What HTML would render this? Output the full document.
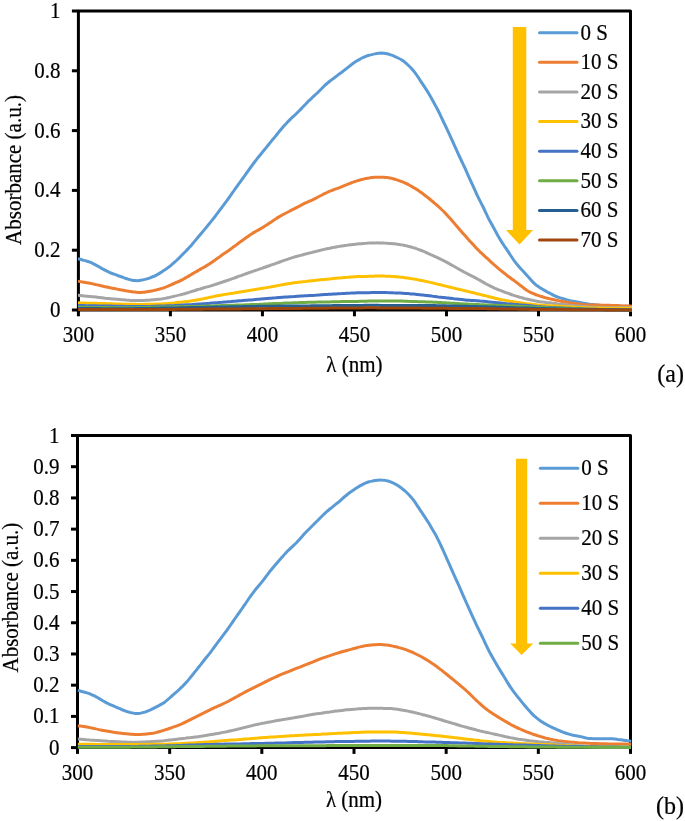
<!DOCTYPE html><html><head><meta charset="utf-8"><style>html,body{margin:0;padding:0;background:#fff;}svg{display:block;will-change:transform;}text{font-family:"Liberation Serif",serif;fill:#000;stroke:#000;stroke-width:0.2px;}</style></head><body>
<svg width="685" height="821" viewBox="0 0 685 821">
<rect width="685" height="821" fill="#fff"/>
<g stroke="#000" stroke-width="3" fill="none" stroke-linejoin="round">
<rect x="78.40" y="11.00" width="552.10" height="299.00"/>
<line x1="71.90" y1="310.00" x2="78.40" y2="310.00"/>
<line x1="71.90" y1="250.20" x2="78.40" y2="250.20"/>
<line x1="71.90" y1="190.40" x2="78.40" y2="190.40"/>
<line x1="71.90" y1="130.60" x2="78.40" y2="130.60"/>
<line x1="71.90" y1="70.80" x2="78.40" y2="70.80"/>
<line x1="71.90" y1="11.00" x2="78.40" y2="11.00"/>
<line x1="78.40" y1="310.00" x2="78.40" y2="316.30"/>
<line x1="170.42" y1="310.00" x2="170.42" y2="316.30"/>
<line x1="262.43" y1="310.00" x2="262.43" y2="316.30"/>
<line x1="354.45" y1="310.00" x2="354.45" y2="316.30"/>
<line x1="446.47" y1="310.00" x2="446.47" y2="316.30"/>
<line x1="538.48" y1="310.00" x2="538.48" y2="316.30"/>
<line x1="630.50" y1="310.00" x2="630.50" y2="316.30"/>
</g>
<clipPath id="ca"><rect x="77.80" y="9.00" width="554.30" height="303.00"/></clipPath>
<g clip-path="url(#ca)" fill="none" stroke-width="3" stroke-linejoin="round">
<path d="M78.0,258.7 C78.5,258.8 80.0,259.3 81.0,259.5 C82.0,259.8 83.0,260.1 84.0,260.4 C85.0,260.6 86.0,260.9 87.0,261.2 C88.0,261.5 89.0,261.8 90.0,262.2 C91.0,262.6 92.0,263.1 93.0,263.6 C94.0,264.1 95.0,264.6 96.0,265.1 C97.0,265.6 98.0,266.2 99.0,266.8 C100.0,267.4 101.0,268.0 102.0,268.6 C103.0,269.1 104.0,269.7 105.0,270.2 C106.0,270.7 107.0,271.2 108.0,271.7 C109.0,272.1 110.0,272.6 111.0,273.0 C112.0,273.4 113.0,273.8 114.0,274.1 C115.0,274.5 116.0,274.8 117.0,275.2 C118.0,275.5 119.0,275.9 120.0,276.3 C121.0,276.6 122.0,277.0 123.0,277.4 C124.0,277.8 125.0,278.2 126.0,278.5 C127.0,278.9 128.0,279.1 129.0,279.4 C130.0,279.7 131.0,280.0 132.0,280.2 C133.0,280.4 134.0,280.5 135.0,280.6 C136.0,280.7 137.0,280.7 138.0,280.7 C139.0,280.6 140.0,280.4 141.0,280.2 C142.0,280.0 143.0,279.8 144.0,279.6 C145.0,279.4 146.0,279.2 147.0,278.9 C148.0,278.6 149.0,278.3 150.0,277.9 C151.0,277.6 152.0,277.2 153.0,276.7 C154.0,276.3 155.0,275.8 156.0,275.3 C157.0,274.8 158.0,274.2 159.0,273.6 C160.0,273.0 161.0,272.4 162.0,271.8 C163.0,271.1 164.0,270.4 165.0,269.8 C166.0,269.1 167.0,268.4 168.0,267.6 C169.0,266.9 170.0,266.1 171.0,265.3 C172.0,264.5 173.0,263.6 174.0,262.7 C175.0,261.8 176.0,260.9 177.0,260.0 C178.0,259.0 179.0,258.0 180.0,257.1 C181.0,256.1 182.0,255.1 183.0,254.0 C184.0,253.0 185.0,252.0 186.0,251.0 C187.0,249.9 188.0,248.9 189.0,247.8 C190.0,246.7 191.0,245.6 192.0,244.5 C193.0,243.3 194.0,242.1 195.0,240.9 C196.0,239.7 197.0,238.5 198.0,237.3 C199.0,236.1 200.0,234.9 201.0,233.7 C202.0,232.5 203.0,231.3 204.0,230.1 C205.0,228.9 206.0,227.7 207.0,226.5 C208.0,225.3 209.0,224.2 210.0,222.9 C211.0,221.7 212.0,220.5 213.0,219.2 C214.0,217.9 215.0,216.6 216.0,215.2 C217.0,213.9 218.0,212.6 219.0,211.2 C220.0,209.9 221.0,208.5 222.0,207.1 C223.0,205.8 224.0,204.5 225.0,203.1 C226.0,201.8 227.0,200.5 228.0,199.1 C229.0,197.7 230.0,196.3 231.0,194.8 C232.0,193.4 233.0,191.9 234.0,190.5 C235.0,189.1 236.0,187.7 237.0,186.3 C238.0,184.9 239.0,183.5 240.0,182.2 C241.0,180.8 242.0,179.5 243.0,178.1 C244.0,176.7 245.0,175.3 246.0,173.9 C247.0,172.4 248.0,171.0 249.0,169.6 C250.0,168.2 251.0,166.8 252.0,165.5 C253.0,164.1 254.0,162.8 255.0,161.5 C256.0,160.2 257.0,159.0 258.0,157.7 C259.0,156.4 260.0,155.2 261.0,154.0 C262.0,152.8 263.0,151.5 264.0,150.3 C265.0,149.1 266.0,147.9 267.0,146.6 C268.0,145.4 269.0,144.1 270.0,142.9 C271.0,141.7 272.0,140.5 273.0,139.2 C274.0,138.0 275.0,136.8 276.0,135.6 C277.0,134.3 278.0,133.1 279.0,131.8 C280.0,130.6 281.0,129.4 282.0,128.2 C283.0,127.0 284.0,125.9 285.0,124.8 C286.0,123.7 287.0,122.7 288.0,121.6 C289.0,120.6 290.0,119.6 291.0,118.6 C292.0,117.7 293.0,116.7 294.0,115.8 C295.0,114.9 296.0,114.0 297.0,113.0 C298.0,112.0 299.0,111.0 300.0,109.9 C301.0,108.9 302.0,107.8 303.0,106.8 C304.0,105.8 305.0,104.7 306.0,103.7 C307.0,102.7 308.0,101.6 309.0,100.7 C310.0,99.7 311.0,98.7 312.0,97.8 C313.0,96.8 314.0,96.0 315.0,95.0 C316.0,94.1 317.0,93.2 318.0,92.2 C319.0,91.2 320.0,90.2 321.0,89.2 C322.0,88.2 323.0,87.2 324.0,86.2 C325.0,85.3 326.0,84.3 327.0,83.5 C328.0,82.6 329.0,81.8 330.0,81.0 C331.0,80.3 332.0,79.5 333.0,78.8 C334.0,78.0 335.0,77.2 336.0,76.5 C337.0,75.7 338.0,75.0 339.0,74.2 C340.0,73.5 341.0,72.8 342.0,72.1 C343.0,71.3 344.0,70.5 345.0,69.7 C346.0,69.0 347.0,68.1 348.0,67.3 C349.0,66.5 350.0,65.7 351.0,65.0 C352.0,64.2 353.0,63.5 354.0,62.8 C355.0,62.1 356.0,61.5 357.0,60.8 C358.0,60.2 359.0,59.6 360.0,59.1 C361.0,58.5 362.0,58.0 363.0,57.5 C364.0,57.1 365.0,56.7 366.0,56.3 C367.0,55.9 368.0,55.6 369.0,55.3 C370.0,55.0 371.0,54.8 372.0,54.6 C373.0,54.3 374.0,54.1 375.0,53.9 C376.0,53.7 377.0,53.5 378.0,53.3 C379.0,53.2 380.0,53.2 381.0,53.1 C382.0,53.1 383.0,53.2 384.0,53.3 C385.0,53.4 386.0,53.6 387.0,53.8 C388.0,54.0 389.0,54.3 390.0,54.6 C391.0,55.0 392.0,55.3 393.0,55.7 C394.0,56.1 395.0,56.6 396.0,57.0 C397.0,57.5 398.0,58.0 399.0,58.5 C400.0,59.0 401.0,59.5 402.0,60.1 C403.0,60.8 404.0,61.5 405.0,62.3 C406.0,63.2 407.0,64.1 408.0,65.0 C409.0,66.0 410.0,66.9 411.0,68.0 C412.0,69.1 413.0,70.2 414.0,71.4 C415.0,72.7 416.0,74.1 417.0,75.5 C418.0,77.0 419.0,78.6 420.0,80.1 C421.0,81.6 422.0,83.2 423.0,84.7 C424.0,86.2 425.0,87.6 426.0,89.2 C427.0,90.7 428.0,92.3 429.0,94.0 C430.0,95.7 431.0,97.4 432.0,99.2 C433.0,101.0 434.0,102.8 435.0,104.7 C436.0,106.5 437.0,108.4 438.0,110.3 C439.0,112.3 440.0,114.5 441.0,116.6 C442.0,118.7 443.0,120.8 444.0,122.9 C445.0,125.0 446.0,127.0 447.0,129.1 C448.0,131.3 449.0,133.4 450.0,135.6 C451.0,137.8 452.0,139.9 453.0,142.2 C454.0,144.4 455.0,146.7 456.0,148.9 C457.0,151.2 458.0,153.4 459.0,155.5 C460.0,157.7 461.0,159.7 462.0,161.8 C463.0,163.9 464.0,166.0 465.0,168.2 C466.0,170.5 467.0,172.8 468.0,175.1 C469.0,177.3 470.0,179.5 471.0,181.7 C472.0,183.8 473.0,186.0 474.0,188.2 C475.0,190.4 476.0,192.7 477.0,194.8 C478.0,196.9 479.0,198.9 480.0,200.9 C481.0,202.9 482.0,204.8 483.0,206.8 C484.0,208.8 485.0,211.1 486.0,213.2 C487.0,215.2 488.0,217.4 489.0,219.4 C490.0,221.3 491.0,223.0 492.0,224.8 C493.0,226.6 494.0,228.4 495.0,230.2 C496.0,232.0 497.0,234.0 498.0,235.8 C499.0,237.5 500.0,239.3 501.0,240.9 C502.0,242.5 503.0,244.0 504.0,245.5 C505.0,247.0 506.0,248.4 507.0,249.9 C508.0,251.4 509.0,252.9 510.0,254.5 C511.0,256.0 512.0,257.6 513.0,259.0 C514.0,260.5 515.0,261.9 516.0,263.1 C517.0,264.4 518.0,265.5 519.0,266.7 C520.0,267.8 521.0,268.9 522.0,270.0 C523.0,271.0 524.0,272.1 525.0,273.2 C526.0,274.3 527.0,275.4 528.0,276.6 C529.0,277.7 530.0,278.8 531.0,279.9 C532.0,281.0 533.0,282.1 534.0,283.1 C535.0,284.1 536.0,285.0 537.0,285.7 C538.0,286.5 539.0,287.1 540.0,287.7 C541.0,288.3 542.0,288.9 543.0,289.5 C544.0,290.1 545.0,290.6 546.0,291.2 C547.0,291.8 548.0,292.3 549.0,292.8 C550.0,293.4 551.0,293.9 552.0,294.4 C553.0,295.0 554.0,295.5 555.0,296.0 C556.0,296.4 557.0,296.8 558.0,297.2 C559.0,297.5 560.0,297.8 561.0,298.1 C562.0,298.4 563.0,298.7 564.0,299.0 C565.0,299.3 566.0,299.6 567.0,299.9 C568.0,300.2 569.0,300.4 570.0,300.6 C571.0,300.9 572.0,301.1 573.0,301.2 C574.0,301.4 575.0,301.6 576.0,301.8 C577.0,302.0 578.0,302.1 579.0,302.3 C580.0,302.5 581.0,302.7 582.0,302.9 C583.0,303.1 584.0,303.3 585.0,303.5 C586.0,303.7 587.0,303.9 588.0,304.0 C589.0,304.2 590.0,304.3 591.0,304.4 C592.0,304.5 593.0,304.7 594.0,304.8 C595.0,304.9 596.0,305.0 597.0,305.1 C598.0,305.2 599.0,305.4 600.0,305.4 C601.0,305.5 602.0,305.5 603.0,305.6 C604.0,305.6 605.0,305.7 606.0,305.7 C607.0,305.7 608.0,305.8 609.0,305.8 C610.0,305.8 611.0,305.8 612.0,305.9 C613.0,305.9 614.0,305.9 615.0,306.0 C616.0,306.0 617.0,306.0 618.0,306.1 C619.0,306.1 620.0,306.1 621.0,306.2 C622.0,306.2 623.0,306.2 624.0,306.3 C625.0,306.3 626.0,306.3 627.0,306.3 C628.0,306.4 629.2,306.4 630.0,306.4 C630.8,306.5 631.7,306.5 632.0,306.5" stroke="#5B9BD5"/>
<path d="M78.0,281.2 C78.5,281.3 80.0,281.5 81.0,281.7 C82.0,281.9 83.0,282.0 84.0,282.2 C85.0,282.4 86.0,282.5 87.0,282.7 C88.0,282.9 89.0,283.1 90.0,283.3 C91.0,283.5 92.0,283.7 93.0,283.9 C94.0,284.1 95.0,284.4 96.0,284.6 C97.0,284.9 98.0,285.1 99.0,285.3 C100.0,285.6 101.0,285.8 102.0,286.0 C103.0,286.3 104.0,286.5 105.0,286.7 C106.0,286.9 107.0,287.1 108.0,287.3 C109.0,287.6 110.0,287.8 111.0,288.0 C112.0,288.2 113.0,288.3 114.0,288.5 C115.0,288.7 116.0,288.9 117.0,289.1 C118.0,289.3 119.0,289.5 120.0,289.7 C121.0,289.9 122.0,290.1 123.0,290.2 C124.0,290.4 125.0,290.6 126.0,290.8 C127.0,290.9 128.0,291.1 129.0,291.3 C130.0,291.4 131.0,291.6 132.0,291.7 C133.0,291.9 134.0,292.0 135.0,292.1 C136.0,292.2 137.0,292.3 138.0,292.4 C139.0,292.4 140.0,292.4 141.0,292.4 C142.0,292.3 143.0,292.3 144.0,292.2 C145.0,292.1 146.0,291.9 147.0,291.8 C148.0,291.7 149.0,291.5 150.0,291.3 C151.0,291.1 152.0,290.9 153.0,290.7 C154.0,290.4 155.0,290.2 156.0,290.0 C157.0,289.7 158.0,289.5 159.0,289.3 C160.0,289.0 161.0,288.7 162.0,288.4 C163.0,288.1 164.0,287.8 165.0,287.4 C166.0,287.0 167.0,286.5 168.0,286.1 C169.0,285.6 170.0,285.2 171.0,284.8 C172.0,284.3 173.0,283.9 174.0,283.5 C175.0,283.1 176.0,282.7 177.0,282.2 C178.0,281.8 179.0,281.3 180.0,280.8 C181.0,280.3 182.0,279.8 183.0,279.3 C184.0,278.7 185.0,278.2 186.0,277.6 C187.0,277.0 188.0,276.5 189.0,275.9 C190.0,275.3 191.0,274.7 192.0,274.1 C193.0,273.5 194.0,272.9 195.0,272.3 C196.0,271.7 197.0,271.2 198.0,270.6 C199.0,270.0 200.0,269.5 201.0,268.9 C202.0,268.3 203.0,267.8 204.0,267.2 C205.0,266.6 206.0,266.0 207.0,265.4 C208.0,264.7 209.0,264.1 210.0,263.4 C211.0,262.8 212.0,262.1 213.0,261.4 C214.0,260.8 215.0,260.1 216.0,259.3 C217.0,258.6 218.0,257.9 219.0,257.2 C220.0,256.5 221.0,255.7 222.0,255.0 C223.0,254.3 224.0,253.6 225.0,253.0 C226.0,252.3 227.0,251.6 228.0,250.9 C229.0,250.2 230.0,249.5 231.0,248.8 C232.0,248.0 233.0,247.3 234.0,246.5 C235.0,245.8 236.0,245.1 237.0,244.3 C238.0,243.6 239.0,242.8 240.0,242.1 C241.0,241.4 242.0,240.6 243.0,239.9 C244.0,239.2 245.0,238.5 246.0,237.8 C247.0,237.1 248.0,236.4 249.0,235.7 C250.0,235.0 251.0,234.4 252.0,233.8 C253.0,233.1 254.0,232.5 255.0,231.9 C256.0,231.3 257.0,230.8 258.0,230.2 C259.0,229.6 260.0,229.1 261.0,228.5 C262.0,227.9 263.0,227.3 264.0,226.7 C265.0,226.1 266.0,225.4 267.0,224.8 C268.0,224.1 269.0,223.4 270.0,222.7 C271.0,222.1 272.0,221.4 273.0,220.7 C274.0,220.1 275.0,219.4 276.0,218.8 C277.0,218.1 278.0,217.5 279.0,216.9 C280.0,216.3 281.0,215.7 282.0,215.1 C283.0,214.6 284.0,214.1 285.0,213.5 C286.0,213.0 287.0,212.5 288.0,212.0 C289.0,211.5 290.0,210.9 291.0,210.4 C292.0,209.9 293.0,209.4 294.0,208.9 C295.0,208.4 296.0,207.8 297.0,207.3 C298.0,206.8 299.0,206.3 300.0,205.8 C301.0,205.2 302.0,204.7 303.0,204.2 C304.0,203.7 305.0,203.2 306.0,202.7 C307.0,202.3 308.0,201.8 309.0,201.4 C310.0,200.9 311.0,200.5 312.0,200.1 C313.0,199.6 314.0,199.1 315.0,198.6 C316.0,198.1 317.0,197.6 318.0,197.0 C319.0,196.5 320.0,196.0 321.0,195.5 C322.0,195.0 323.0,194.4 324.0,193.9 C325.0,193.5 326.0,193.0 327.0,192.5 C328.0,192.0 329.0,191.6 330.0,191.2 C331.0,190.7 332.0,190.4 333.0,190.0 C334.0,189.6 335.0,189.3 336.0,188.9 C337.0,188.5 338.0,188.2 339.0,187.8 C340.0,187.4 341.0,187.0 342.0,186.6 C343.0,186.2 344.0,185.8 345.0,185.3 C346.0,184.9 347.0,184.5 348.0,184.1 C349.0,183.7 350.0,183.4 351.0,183.0 C352.0,182.6 353.0,182.3 354.0,181.9 C355.0,181.6 356.0,181.2 357.0,180.9 C358.0,180.6 359.0,180.3 360.0,180.0 C361.0,179.7 362.0,179.4 363.0,179.2 C364.0,178.9 365.0,178.7 366.0,178.5 C367.0,178.3 368.0,178.1 369.0,178.0 C370.0,177.8 371.0,177.7 372.0,177.6 C373.0,177.5 374.0,177.4 375.0,177.3 C376.0,177.3 377.0,177.2 378.0,177.2 C379.0,177.2 380.0,177.2 381.0,177.2 C382.0,177.2 383.0,177.3 384.0,177.3 C385.0,177.4 386.0,177.4 387.0,177.5 C388.0,177.6 389.0,177.8 390.0,178.0 C391.0,178.2 392.0,178.4 393.0,178.7 C394.0,179.0 395.0,179.2 396.0,179.6 C397.0,179.9 398.0,180.2 399.0,180.6 C400.0,180.9 401.0,181.3 402.0,181.7 C403.0,182.1 404.0,182.5 405.0,183.0 C406.0,183.4 407.0,183.9 408.0,184.4 C409.0,184.9 410.0,185.5 411.0,186.0 C412.0,186.6 413.0,187.1 414.0,187.8 C415.0,188.4 416.0,189.0 417.0,189.6 C418.0,190.3 419.0,191.0 420.0,191.7 C421.0,192.4 422.0,193.1 423.0,193.8 C424.0,194.6 425.0,195.3 426.0,196.1 C427.0,196.9 428.0,197.7 429.0,198.5 C430.0,199.3 431.0,200.1 432.0,201.0 C433.0,201.8 434.0,202.7 435.0,203.6 C436.0,204.4 437.0,205.3 438.0,206.2 C439.0,207.1 440.0,208.0 441.0,209.0 C442.0,209.9 443.0,210.8 444.0,211.8 C445.0,212.9 446.0,213.9 447.0,215.0 C448.0,216.1 449.0,217.2 450.0,218.3 C451.0,219.4 452.0,220.5 453.0,221.7 C454.0,222.8 455.0,224.0 456.0,225.2 C457.0,226.4 458.0,227.6 459.0,228.7 C460.0,229.9 461.0,231.1 462.0,232.2 C463.0,233.4 464.0,234.5 465.0,235.6 C466.0,236.7 467.0,237.8 468.0,239.0 C469.0,240.1 470.0,241.2 471.0,242.3 C472.0,243.4 473.0,244.5 474.0,245.5 C475.0,246.6 476.0,247.7 477.0,248.7 C478.0,249.8 479.0,250.8 480.0,251.8 C481.0,252.7 482.0,253.7 483.0,254.6 C484.0,255.5 485.0,256.4 486.0,257.3 C487.0,258.2 488.0,259.2 489.0,260.1 C490.0,261.0 491.0,261.9 492.0,262.8 C493.0,263.7 494.0,264.6 495.0,265.5 C496.0,266.4 497.0,267.3 498.0,268.2 C499.0,269.0 500.0,269.8 501.0,270.7 C502.0,271.5 503.0,272.3 504.0,273.0 C505.0,273.8 506.0,274.6 507.0,275.4 C508.0,276.1 509.0,276.9 510.0,277.6 C511.0,278.3 512.0,279.1 513.0,279.8 C514.0,280.5 515.0,281.3 516.0,282.0 C517.0,282.8 518.0,283.5 519.0,284.3 C520.0,285.1 521.0,285.9 522.0,286.7 C523.0,287.5 524.0,288.3 525.0,289.0 C526.0,289.7 527.0,290.4 528.0,291.0 C529.0,291.6 530.0,292.1 531.0,292.6 C532.0,293.1 533.0,293.5 534.0,293.9 C535.0,294.3 536.0,294.7 537.0,295.1 C538.0,295.4 539.0,295.7 540.0,296.1 C541.0,296.4 542.0,296.7 543.0,297.0 C544.0,297.3 545.0,297.6 546.0,297.9 C547.0,298.1 548.0,298.4 549.0,298.6 C550.0,298.9 551.0,299.1 552.0,299.3 C553.0,299.6 554.0,299.8 555.0,300.0 C556.0,300.2 557.0,300.4 558.0,300.6 C559.0,300.9 560.0,301.1 561.0,301.3 C562.0,301.5 563.0,301.6 564.0,301.8 C565.0,302.0 566.0,302.1 567.0,302.3 C568.0,302.5 569.0,302.6 570.0,302.8 C571.0,302.9 572.0,303.1 573.0,303.2 C574.0,303.4 575.0,303.5 576.0,303.6 C577.0,303.8 578.0,303.9 579.0,304.0 C580.0,304.1 581.0,304.3 582.0,304.4 C583.0,304.5 584.0,304.6 585.0,304.7 C586.0,304.8 587.0,304.9 588.0,304.9 C589.0,305.0 590.0,305.0 591.0,305.0 C592.0,305.0 593.0,305.0 594.0,305.1 C595.0,305.1 596.0,305.1 597.0,305.1 C598.0,305.1 599.0,305.1 600.0,305.1 C601.0,305.1 602.0,305.2 603.0,305.2 C604.0,305.2 605.0,305.2 606.0,305.3 C607.0,305.3 608.0,305.3 609.0,305.3 C610.0,305.4 611.0,305.4 612.0,305.4 C613.0,305.5 614.0,305.5 615.0,305.5 C616.0,305.6 617.0,305.6 618.0,305.6 C619.0,305.7 620.0,305.7 621.0,305.8 C622.0,305.8 623.0,305.8 624.0,305.9 C625.0,305.9 626.0,306.0 627.0,306.0 C628.0,306.0 629.2,306.1 630.0,306.1 C630.8,306.2 631.7,306.2 632.0,306.2" stroke="#ED7D31"/>
<path d="M78.0,295.3 C78.5,295.3 80.0,295.5 81.0,295.6 C82.0,295.7 83.0,295.8 84.0,295.9 C85.0,296.0 86.0,296.1 87.0,296.2 C88.0,296.3 89.0,296.4 90.0,296.5 C91.0,296.6 92.0,296.7 93.0,296.8 C94.0,296.9 95.0,297.0 96.0,297.1 C97.0,297.2 98.0,297.4 99.0,297.5 C100.0,297.6 101.0,297.7 102.0,297.8 C103.0,297.9 104.0,298.0 105.0,298.2 C106.0,298.3 107.0,298.4 108.0,298.5 C109.0,298.6 110.0,298.7 111.0,298.8 C112.0,298.9 113.0,298.9 114.0,299.0 C115.0,299.1 116.0,299.2 117.0,299.3 C118.0,299.4 119.0,299.5 120.0,299.6 C121.0,299.7 122.0,299.8 123.0,299.8 C124.0,299.9 125.0,300.0 126.0,300.1 C127.0,300.1 128.0,300.2 129.0,300.3 C130.0,300.4 131.0,300.4 132.0,300.5 C133.0,300.5 134.0,300.5 135.0,300.6 C136.0,300.6 137.0,300.6 138.0,300.5 C139.0,300.5 140.0,300.5 141.0,300.5 C142.0,300.4 143.0,300.4 144.0,300.4 C145.0,300.3 146.0,300.3 147.0,300.2 C148.0,300.2 149.0,300.1 150.0,300.1 C151.0,300.0 152.0,299.9 153.0,299.8 C154.0,299.8 155.0,299.7 156.0,299.6 C157.0,299.5 158.0,299.4 159.0,299.3 C160.0,299.2 161.0,299.1 162.0,298.9 C163.0,298.8 164.0,298.6 165.0,298.4 C166.0,298.2 167.0,298.0 168.0,297.7 C169.0,297.5 170.0,297.2 171.0,297.0 C172.0,296.8 173.0,296.5 174.0,296.3 C175.0,296.0 176.0,295.8 177.0,295.6 C178.0,295.3 179.0,295.1 180.0,294.9 C181.0,294.6 182.0,294.4 183.0,294.1 C184.0,293.8 185.0,293.6 186.0,293.3 C187.0,293.0 188.0,292.7 189.0,292.4 C190.0,292.0 191.0,291.7 192.0,291.4 C193.0,291.1 194.0,290.8 195.0,290.5 C196.0,290.1 197.0,289.8 198.0,289.5 C199.0,289.2 200.0,289.0 201.0,288.7 C202.0,288.4 203.0,288.1 204.0,287.8 C205.0,287.5 206.0,287.2 207.0,286.9 C208.0,286.7 209.0,286.4 210.0,286.1 C211.0,285.8 212.0,285.5 213.0,285.2 C214.0,284.9 215.0,284.6 216.0,284.2 C217.0,283.9 218.0,283.6 219.0,283.3 C220.0,282.9 221.0,282.6 222.0,282.3 C223.0,281.9 224.0,281.6 225.0,281.3 C226.0,280.9 227.0,280.6 228.0,280.2 C229.0,279.9 230.0,279.6 231.0,279.2 C232.0,278.8 233.0,278.5 234.0,278.1 C235.0,277.8 236.0,277.4 237.0,277.0 C238.0,276.6 239.0,276.3 240.0,275.9 C241.0,275.6 242.0,275.2 243.0,274.8 C244.0,274.5 245.0,274.1 246.0,273.8 C247.0,273.4 248.0,273.1 249.0,272.7 C250.0,272.4 251.0,272.0 252.0,271.7 C253.0,271.3 254.0,271.0 255.0,270.6 C256.0,270.3 257.0,269.9 258.0,269.6 C259.0,269.2 260.0,268.9 261.0,268.6 C262.0,268.2 263.0,267.9 264.0,267.5 C265.0,267.2 266.0,266.9 267.0,266.5 C268.0,266.2 269.0,265.8 270.0,265.5 C271.0,265.1 272.0,264.8 273.0,264.4 C274.0,264.1 275.0,263.7 276.0,263.3 C277.0,263.0 278.0,262.6 279.0,262.3 C280.0,261.9 281.0,261.6 282.0,261.2 C283.0,260.8 284.0,260.5 285.0,260.1 C286.0,259.8 287.0,259.4 288.0,259.1 C289.0,258.7 290.0,258.4 291.0,258.1 C292.0,257.8 293.0,257.4 294.0,257.1 C295.0,256.9 296.0,256.6 297.0,256.3 C298.0,256.0 299.0,255.8 300.0,255.5 C301.0,255.2 302.0,255.0 303.0,254.7 C304.0,254.4 305.0,254.2 306.0,253.9 C307.0,253.6 308.0,253.4 309.0,253.1 C310.0,252.9 311.0,252.6 312.0,252.4 C313.0,252.1 314.0,251.9 315.0,251.6 C316.0,251.4 317.0,251.1 318.0,250.9 C319.0,250.6 320.0,250.4 321.0,250.1 C322.0,249.9 323.0,249.6 324.0,249.4 C325.0,249.2 326.0,249.0 327.0,248.8 C328.0,248.6 329.0,248.4 330.0,248.2 C331.0,247.9 332.0,247.7 333.0,247.6 C334.0,247.4 335.0,247.2 336.0,247.0 C337.0,246.8 338.0,246.6 339.0,246.4 C340.0,246.2 341.0,246.1 342.0,245.9 C343.0,245.8 344.0,245.7 345.0,245.5 C346.0,245.4 347.0,245.3 348.0,245.1 C349.0,245.0 350.0,244.9 351.0,244.8 C352.0,244.7 353.0,244.5 354.0,244.4 C355.0,244.3 356.0,244.2 357.0,244.1 C358.0,244.0 359.0,243.9 360.0,243.8 C361.0,243.7 362.0,243.6 363.0,243.5 C364.0,243.4 365.0,243.3 366.0,243.3 C367.0,243.2 368.0,243.1 369.0,243.1 C370.0,243.0 371.0,243.0 372.0,242.9 C373.0,242.9 374.0,242.9 375.0,242.9 C376.0,242.9 377.0,242.8 378.0,242.9 C379.0,242.9 380.0,242.9 381.0,242.9 C382.0,242.9 383.0,242.9 384.0,243.0 C385.0,243.0 386.0,243.1 387.0,243.2 C388.0,243.2 389.0,243.3 390.0,243.4 C391.0,243.5 392.0,243.6 393.0,243.7 C394.0,243.8 395.0,243.9 396.0,244.0 C397.0,244.1 398.0,244.3 399.0,244.4 C400.0,244.6 401.0,244.7 402.0,244.9 C403.0,245.1 404.0,245.3 405.0,245.5 C406.0,245.7 407.0,245.9 408.0,246.2 C409.0,246.4 410.0,246.7 411.0,247.0 C412.0,247.3 413.0,247.6 414.0,247.9 C415.0,248.2 416.0,248.5 417.0,248.9 C418.0,249.2 419.0,249.6 420.0,250.0 C421.0,250.3 422.0,250.7 423.0,251.2 C424.0,251.6 425.0,252.0 426.0,252.5 C427.0,252.9 428.0,253.4 429.0,253.8 C430.0,254.3 431.0,254.7 432.0,255.2 C433.0,255.6 434.0,256.1 435.0,256.5 C436.0,257.0 437.0,257.4 438.0,257.9 C439.0,258.4 440.0,258.9 441.0,259.4 C442.0,259.8 443.0,260.3 444.0,260.9 C445.0,261.4 446.0,261.9 447.0,262.4 C448.0,263.0 449.0,263.5 450.0,264.1 C451.0,264.7 452.0,265.2 453.0,265.8 C454.0,266.4 455.0,267.0 456.0,267.5 C457.0,268.1 458.0,268.7 459.0,269.2 C460.0,269.8 461.0,270.3 462.0,270.9 C463.0,271.4 464.0,272.0 465.0,272.5 C466.0,273.0 467.0,273.6 468.0,274.1 C469.0,274.6 470.0,275.1 471.0,275.6 C472.0,276.1 473.0,276.6 474.0,277.1 C475.0,277.6 476.0,278.2 477.0,278.7 C478.0,279.3 479.0,279.8 480.0,280.4 C481.0,281.0 482.0,281.5 483.0,282.1 C484.0,282.7 485.0,283.2 486.0,283.8 C487.0,284.3 488.0,284.8 489.0,285.4 C490.0,285.9 491.0,286.4 492.0,286.9 C493.0,287.4 494.0,287.8 495.0,288.3 C496.0,288.7 497.0,289.2 498.0,289.6 C499.0,290.0 500.0,290.3 501.0,290.7 C502.0,291.1 503.0,291.5 504.0,291.8 C505.0,292.2 506.0,292.6 507.0,292.9 C508.0,293.3 509.0,293.7 510.0,294.0 C511.0,294.4 512.0,294.8 513.0,295.1 C514.0,295.4 515.0,295.8 516.0,296.1 C517.0,296.4 518.0,296.7 519.0,297.0 C520.0,297.3 521.0,297.5 522.0,297.8 C523.0,298.1 524.0,298.3 525.0,298.6 C526.0,298.8 527.0,299.1 528.0,299.3 C529.0,299.5 530.0,299.7 531.0,300.0 C532.0,300.2 533.0,300.4 534.0,300.6 C535.0,300.8 536.0,301.0 537.0,301.2 C538.0,301.3 539.0,301.5 540.0,301.7 C541.0,301.8 542.0,302.0 543.0,302.1 C544.0,302.2 545.0,302.3 546.0,302.5 C547.0,302.6 548.0,302.7 549.0,302.8 C550.0,302.9 551.0,303.0 552.0,303.1 C553.0,303.3 554.0,303.4 555.0,303.5 C556.0,303.6 557.0,303.7 558.0,303.9 C559.0,304.0 560.0,304.1 561.0,304.2 C562.0,304.3 563.0,304.4 564.0,304.6 C565.0,304.7 566.0,304.8 567.0,304.9 C568.0,305.0 569.0,305.1 570.0,305.2 C571.0,305.3 572.0,305.5 573.0,305.6 C574.0,305.7 575.0,305.8 576.0,305.9 C577.0,305.9 578.0,306.0 579.0,306.1 C580.0,306.2 581.0,306.3 582.0,306.4 C583.0,306.5 584.0,306.5 585.0,306.6 C586.0,306.7 587.0,306.8 588.0,306.9 C589.0,306.9 590.0,307.0 591.0,307.1 C592.0,307.1 593.0,307.1 594.0,307.2 C595.0,307.2 596.0,307.2 597.0,307.3 C598.0,307.3 599.0,307.3 600.0,307.3 C601.0,307.3 602.0,307.3 603.0,307.3 C604.0,307.4 605.0,307.4 606.0,307.4 C607.0,307.4 608.0,307.4 609.0,307.4 C610.0,307.4 611.0,307.4 612.0,307.5 C613.0,307.5 614.0,307.5 615.0,307.5 C616.0,307.5 617.0,307.5 618.0,307.5 C619.0,307.5 620.0,307.6 621.0,307.6 C622.0,307.6 623.0,307.6 624.0,307.6 C625.0,307.6 626.0,307.6 627.0,307.6 C628.0,307.6 629.2,307.7 630.0,307.7 C630.8,307.7 631.7,307.7 632.0,307.7" stroke="#A5A5A5"/>
<path d="M78.0,302.8 C78.5,302.8 80.0,302.9 81.0,302.9 C82.0,302.9 83.0,302.9 84.0,303.0 C85.0,303.0 86.0,303.0 87.0,303.1 C88.0,303.1 89.0,303.1 90.0,303.2 C91.0,303.2 92.0,303.2 93.0,303.2 C94.0,303.3 95.0,303.3 96.0,303.3 C97.0,303.4 98.0,303.4 99.0,303.4 C100.0,303.5 101.0,303.5 102.0,303.5 C103.0,303.5 104.0,303.6 105.0,303.6 C106.0,303.6 107.0,303.7 108.0,303.7 C109.0,303.7 110.0,303.8 111.0,303.8 C112.0,303.8 113.0,303.9 114.0,303.9 C115.0,303.9 116.0,304.0 117.0,304.0 C118.0,304.1 119.0,304.1 120.0,304.1 C121.0,304.2 122.0,304.2 123.0,304.2 C124.0,304.2 125.0,304.3 126.0,304.3 C127.0,304.3 128.0,304.3 129.0,304.3 C130.0,304.3 131.0,304.3 132.0,304.3 C133.0,304.3 134.0,304.3 135.0,304.3 C136.0,304.4 137.0,304.4 138.0,304.4 C139.0,304.4 140.0,304.4 141.0,304.4 C142.0,304.4 143.0,304.4 144.0,304.4 C145.0,304.4 146.0,304.3 147.0,304.3 C148.0,304.3 149.0,304.3 150.0,304.3 C151.0,304.2 152.0,304.2 153.0,304.2 C154.0,304.2 155.0,304.1 156.0,304.1 C157.0,304.1 158.0,304.0 159.0,304.0 C160.0,304.0 161.0,303.9 162.0,303.9 C163.0,303.8 164.0,303.8 165.0,303.7 C166.0,303.7 167.0,303.6 168.0,303.5 C169.0,303.4 170.0,303.3 171.0,303.3 C172.0,303.2 173.0,303.1 174.0,303.0 C175.0,302.8 176.0,302.7 177.0,302.6 C178.0,302.5 179.0,302.4 180.0,302.3 C181.0,302.2 182.0,302.1 183.0,301.9 C184.0,301.8 185.0,301.7 186.0,301.6 C187.0,301.4 188.0,301.3 189.0,301.2 C190.0,301.0 191.0,300.9 192.0,300.7 C193.0,300.6 194.0,300.5 195.0,300.3 C196.0,300.1 197.0,300.0 198.0,299.8 C199.0,299.6 200.0,299.5 201.0,299.3 C202.0,299.1 203.0,298.9 204.0,298.6 C205.0,298.4 206.0,298.2 207.0,298.0 C208.0,297.8 209.0,297.5 210.0,297.3 C211.0,297.1 212.0,296.9 213.0,296.7 C214.0,296.4 215.0,296.2 216.0,296.0 C217.0,295.9 218.0,295.7 219.0,295.5 C220.0,295.3 221.0,295.1 222.0,294.9 C223.0,294.8 224.0,294.6 225.0,294.4 C226.0,294.2 227.0,294.1 228.0,293.9 C229.0,293.7 230.0,293.6 231.0,293.4 C232.0,293.3 233.0,293.1 234.0,293.0 C235.0,292.8 236.0,292.7 237.0,292.5 C238.0,292.3 239.0,292.2 240.0,292.0 C241.0,291.9 242.0,291.7 243.0,291.6 C244.0,291.4 245.0,291.2 246.0,291.1 C247.0,290.9 248.0,290.7 249.0,290.6 C250.0,290.4 251.0,290.2 252.0,290.1 C253.0,289.9 254.0,289.7 255.0,289.6 C256.0,289.4 257.0,289.2 258.0,289.1 C259.0,288.9 260.0,288.7 261.0,288.6 C262.0,288.4 263.0,288.3 264.0,288.1 C265.0,288.0 266.0,287.8 267.0,287.6 C268.0,287.5 269.0,287.3 270.0,287.1 C271.0,286.9 272.0,286.7 273.0,286.5 C274.0,286.3 275.0,286.1 276.0,285.9 C277.0,285.8 278.0,285.6 279.0,285.4 C280.0,285.2 281.0,285.0 282.0,284.8 C283.0,284.6 284.0,284.5 285.0,284.3 C286.0,284.1 287.0,283.9 288.0,283.7 C289.0,283.6 290.0,283.4 291.0,283.3 C292.0,283.1 293.0,282.9 294.0,282.8 C295.0,282.7 296.0,282.5 297.0,282.4 C298.0,282.3 299.0,282.2 300.0,282.1 C301.0,281.9 302.0,281.8 303.0,281.7 C304.0,281.6 305.0,281.5 306.0,281.4 C307.0,281.2 308.0,281.1 309.0,281.0 C310.0,280.9 311.0,280.8 312.0,280.7 C313.0,280.6 314.0,280.5 315.0,280.4 C316.0,280.3 317.0,280.2 318.0,280.1 C319.0,280.0 320.0,279.9 321.0,279.8 C322.0,279.7 323.0,279.6 324.0,279.5 C325.0,279.4 326.0,279.3 327.0,279.2 C328.0,279.1 329.0,279.0 330.0,278.9 C331.0,278.8 332.0,278.7 333.0,278.6 C334.0,278.5 335.0,278.4 336.0,278.3 C337.0,278.2 338.0,278.1 339.0,278.0 C340.0,277.9 341.0,277.8 342.0,277.8 C343.0,277.7 344.0,277.6 345.0,277.5 C346.0,277.4 347.0,277.3 348.0,277.3 C349.0,277.2 350.0,277.1 351.0,277.0 C352.0,276.9 353.0,276.9 354.0,276.8 C355.0,276.7 356.0,276.7 357.0,276.6 C358.0,276.6 359.0,276.6 360.0,276.5 C361.0,276.5 362.0,276.5 363.0,276.4 C364.0,276.4 365.0,276.4 366.0,276.4 C367.0,276.3 368.0,276.3 369.0,276.3 C370.0,276.3 371.0,276.2 372.0,276.2 C373.0,276.2 374.0,276.1 375.0,276.1 C376.0,276.1 377.0,276.1 378.0,276.1 C379.0,276.0 380.0,276.0 381.0,276.0 C382.0,276.0 383.0,276.0 384.0,276.1 C385.0,276.1 386.0,276.1 387.0,276.2 C388.0,276.2 389.0,276.3 390.0,276.3 C391.0,276.4 392.0,276.4 393.0,276.5 C394.0,276.6 395.0,276.6 396.0,276.7 C397.0,276.8 398.0,276.9 399.0,277.0 C400.0,277.0 401.0,277.2 402.0,277.3 C403.0,277.4 404.0,277.5 405.0,277.7 C406.0,277.8 407.0,278.0 408.0,278.1 C409.0,278.3 410.0,278.4 411.0,278.6 C412.0,278.8 413.0,278.9 414.0,279.1 C415.0,279.3 416.0,279.4 417.0,279.6 C418.0,279.8 419.0,280.0 420.0,280.2 C421.0,280.4 422.0,280.6 423.0,280.8 C424.0,281.0 425.0,281.2 426.0,281.4 C427.0,281.7 428.0,281.9 429.0,282.1 C430.0,282.3 431.0,282.5 432.0,282.8 C433.0,283.0 434.0,283.2 435.0,283.5 C436.0,283.7 437.0,283.9 438.0,284.2 C439.0,284.4 440.0,284.7 441.0,284.9 C442.0,285.2 443.0,285.4 444.0,285.7 C445.0,285.9 446.0,286.1 447.0,286.4 C448.0,286.6 449.0,286.9 450.0,287.1 C451.0,287.4 452.0,287.6 453.0,287.9 C454.0,288.1 455.0,288.4 456.0,288.6 C457.0,288.8 458.0,289.1 459.0,289.3 C460.0,289.5 461.0,289.8 462.0,290.0 C463.0,290.2 464.0,290.5 465.0,290.7 C466.0,291.0 467.0,291.2 468.0,291.5 C469.0,291.7 470.0,291.9 471.0,292.2 C472.0,292.4 473.0,292.7 474.0,292.9 C475.0,293.2 476.0,293.4 477.0,293.7 C478.0,293.9 479.0,294.2 480.0,294.4 C481.0,294.7 482.0,294.9 483.0,295.2 C484.0,295.4 485.0,295.7 486.0,295.9 C487.0,296.2 488.0,296.4 489.0,296.7 C490.0,296.9 491.0,297.2 492.0,297.4 C493.0,297.7 494.0,297.9 495.0,298.2 C496.0,298.4 497.0,298.7 498.0,298.9 C499.0,299.1 500.0,299.4 501.0,299.6 C502.0,299.8 503.0,300.0 504.0,300.1 C505.0,300.3 506.0,300.5 507.0,300.7 C508.0,300.8 509.0,301.0 510.0,301.2 C511.0,301.3 512.0,301.5 513.0,301.6 C514.0,301.8 515.0,302.0 516.0,302.1 C517.0,302.3 518.0,302.4 519.0,302.5 C520.0,302.7 521.0,302.8 522.0,303.0 C523.0,303.1 524.0,303.2 525.0,303.4 C526.0,303.5 527.0,303.6 528.0,303.8 C529.0,303.9 530.0,304.0 531.0,304.1 C532.0,304.3 533.0,304.4 534.0,304.5 C535.0,304.6 536.0,304.8 537.0,304.9 C538.0,305.0 539.0,305.1 540.0,305.2 C541.0,305.3 542.0,305.3 543.0,305.4 C544.0,305.5 545.0,305.5 546.0,305.6 C547.0,305.6 548.0,305.7 549.0,305.7 C550.0,305.8 551.0,305.8 552.0,305.8 C553.0,305.9 554.0,305.9 555.0,306.0 C556.0,306.0 557.0,306.1 558.0,306.1 C559.0,306.2 560.0,306.2 561.0,306.3 C562.0,306.3 563.0,306.4 564.0,306.5 C565.0,306.5 566.0,306.6 567.0,306.7 C568.0,306.7 569.0,306.8 570.0,306.8 C571.0,306.9 572.0,307.0 573.0,307.0 C574.0,307.1 575.0,307.2 576.0,307.2 C577.0,307.3 578.0,307.3 579.0,307.4 C580.0,307.5 581.0,307.5 582.0,307.5 C583.0,307.6 584.0,307.6 585.0,307.7 C586.0,307.7 587.0,307.7 588.0,307.8 C589.0,307.8 590.0,307.9 591.0,307.9 C592.0,307.9 593.0,308.0 594.0,308.0 C595.0,308.0 596.0,308.1 597.0,308.1 C598.0,308.1 599.0,308.1 600.0,308.1 C601.0,308.2 602.0,308.2 603.0,308.2 C604.0,308.2 605.0,308.2 606.0,308.2 C607.0,308.2 608.0,308.2 609.0,308.2 C610.0,308.2 611.0,308.2 612.0,308.2 C613.0,308.2 614.0,308.2 615.0,308.2 C616.0,308.2 617.0,308.3 618.0,308.3 C619.0,308.3 620.0,308.3 621.0,308.3 C622.0,308.3 623.0,308.3 624.0,308.3 C625.0,308.3 626.0,308.3 627.0,308.3 C628.0,308.3 629.2,308.3 630.0,308.3 C630.8,308.3 631.7,308.3 632.0,308.3" stroke="#FFC000"/>
<path d="M78.0,305.5 C78.5,305.5 80.0,305.5 81.0,305.6 C82.0,305.6 83.0,305.6 84.0,305.6 C85.0,305.6 86.0,305.7 87.0,305.7 C88.0,305.7 89.0,305.7 90.0,305.7 C91.0,305.7 92.0,305.8 93.0,305.8 C94.0,305.8 95.0,305.8 96.0,305.8 C97.0,305.9 98.0,305.9 99.0,305.9 C100.0,305.9 101.0,305.9 102.0,306.0 C103.0,306.0 104.0,306.0 105.0,306.0 C106.0,306.0 107.0,306.1 108.0,306.1 C109.0,306.1 110.0,306.1 111.0,306.1 C112.0,306.2 113.0,306.2 114.0,306.2 C115.0,306.2 116.0,306.2 117.0,306.2 C118.0,306.3 119.0,306.3 120.0,306.3 C121.0,306.3 122.0,306.3 123.0,306.3 C124.0,306.4 125.0,306.4 126.0,306.4 C127.0,306.4 128.0,306.4 129.0,306.4 C130.0,306.4 131.0,306.4 132.0,306.4 C133.0,306.4 134.0,306.4 135.0,306.4 C136.0,306.4 137.0,306.4 138.0,306.4 C139.0,306.4 140.0,306.4 141.0,306.4 C142.0,306.4 143.0,306.4 144.0,306.4 C145.0,306.4 146.0,306.4 147.0,306.4 C148.0,306.4 149.0,306.4 150.0,306.4 C151.0,306.3 152.0,306.3 153.0,306.3 C154.0,306.3 155.0,306.2 156.0,306.2 C157.0,306.2 158.0,306.2 159.0,306.1 C160.0,306.1 161.0,306.1 162.0,306.0 C163.0,306.0 164.0,306.0 165.0,305.9 C166.0,305.9 167.0,305.9 168.0,305.8 C169.0,305.8 170.0,305.8 171.0,305.7 C172.0,305.7 173.0,305.6 174.0,305.6 C175.0,305.5 176.0,305.4 177.0,305.4 C178.0,305.3 179.0,305.3 180.0,305.2 C181.0,305.1 182.0,305.1 183.0,305.0 C184.0,305.0 185.0,304.9 186.0,304.8 C187.0,304.8 188.0,304.7 189.0,304.7 C190.0,304.6 191.0,304.5 192.0,304.5 C193.0,304.4 194.0,304.4 195.0,304.3 C196.0,304.2 197.0,304.2 198.0,304.1 C199.0,304.0 200.0,304.0 201.0,303.9 C202.0,303.8 203.0,303.8 204.0,303.7 C205.0,303.6 206.0,303.5 207.0,303.4 C208.0,303.4 209.0,303.3 210.0,303.2 C211.0,303.1 212.0,303.1 213.0,303.0 C214.0,302.9 215.0,302.8 216.0,302.7 C217.0,302.7 218.0,302.6 219.0,302.5 C220.0,302.4 221.0,302.3 222.0,302.3 C223.0,302.2 224.0,302.1 225.0,302.0 C226.0,302.0 227.0,301.9 228.0,301.8 C229.0,301.7 230.0,301.6 231.0,301.6 C232.0,301.5 233.0,301.4 234.0,301.3 C235.0,301.2 236.0,301.2 237.0,301.1 C238.0,301.0 239.0,300.9 240.0,300.8 C241.0,300.7 242.0,300.7 243.0,300.6 C244.0,300.5 245.0,300.4 246.0,300.3 C247.0,300.3 248.0,300.2 249.0,300.1 C250.0,300.0 251.0,299.9 252.0,299.9 C253.0,299.8 254.0,299.7 255.0,299.6 C256.0,299.5 257.0,299.4 258.0,299.3 C259.0,299.2 260.0,299.2 261.0,299.1 C262.0,299.0 263.0,298.9 264.0,298.8 C265.0,298.7 266.0,298.6 267.0,298.5 C268.0,298.4 269.0,298.3 270.0,298.2 C271.0,298.2 272.0,298.1 273.0,298.0 C274.0,297.9 275.0,297.8 276.0,297.8 C277.0,297.7 278.0,297.6 279.0,297.5 C280.0,297.5 281.0,297.4 282.0,297.3 C283.0,297.3 284.0,297.2 285.0,297.1 C286.0,297.0 287.0,297.0 288.0,296.9 C289.0,296.8 290.0,296.8 291.0,296.7 C292.0,296.6 293.0,296.5 294.0,296.5 C295.0,296.4 296.0,296.4 297.0,296.3 C298.0,296.2 299.0,296.2 300.0,296.1 C301.0,296.0 302.0,296.0 303.0,295.9 C304.0,295.8 305.0,295.8 306.0,295.7 C307.0,295.7 308.0,295.6 309.0,295.5 C310.0,295.5 311.0,295.4 312.0,295.4 C313.0,295.3 314.0,295.2 315.0,295.2 C316.0,295.1 317.0,295.0 318.0,295.0 C319.0,294.9 320.0,294.9 321.0,294.8 C322.0,294.7 323.0,294.7 324.0,294.6 C325.0,294.6 326.0,294.5 327.0,294.4 C328.0,294.4 329.0,294.3 330.0,294.3 C331.0,294.2 332.0,294.2 333.0,294.1 C334.0,294.0 335.0,294.0 336.0,293.9 C337.0,293.9 338.0,293.8 339.0,293.8 C340.0,293.7 341.0,293.6 342.0,293.6 C343.0,293.5 344.0,293.5 345.0,293.4 C346.0,293.4 347.0,293.3 348.0,293.3 C349.0,293.2 350.0,293.1 351.0,293.1 C352.0,293.0 353.0,293.0 354.0,293.0 C355.0,292.9 356.0,292.9 357.0,292.8 C358.0,292.8 359.0,292.8 360.0,292.8 C361.0,292.8 362.0,292.8 363.0,292.8 C364.0,292.7 365.0,292.7 366.0,292.7 C367.0,292.7 368.0,292.7 369.0,292.7 C370.0,292.7 371.0,292.7 372.0,292.6 C373.0,292.6 374.0,292.6 375.0,292.6 C376.0,292.6 377.0,292.5 378.0,292.5 C379.0,292.5 380.0,292.5 381.0,292.5 C382.0,292.5 383.0,292.5 384.0,292.5 C385.0,292.5 386.0,292.5 387.0,292.6 C388.0,292.6 389.0,292.6 390.0,292.7 C391.0,292.7 392.0,292.7 393.0,292.8 C394.0,292.8 395.0,292.8 396.0,292.9 C397.0,292.9 398.0,293.0 399.0,293.0 C400.0,293.1 401.0,293.1 402.0,293.2 C403.0,293.3 404.0,293.3 405.0,293.4 C406.0,293.5 407.0,293.6 408.0,293.6 C409.0,293.7 410.0,293.8 411.0,293.9 C412.0,294.0 413.0,294.0 414.0,294.1 C415.0,294.2 416.0,294.3 417.0,294.4 C418.0,294.5 419.0,294.6 420.0,294.7 C421.0,294.8 422.0,295.0 423.0,295.1 C424.0,295.2 425.0,295.3 426.0,295.4 C427.0,295.5 428.0,295.7 429.0,295.8 C430.0,295.9 431.0,296.0 432.0,296.1 C433.0,296.3 434.0,296.4 435.0,296.5 C436.0,296.6 437.0,296.7 438.0,296.9 C439.0,297.0 440.0,297.1 441.0,297.2 C442.0,297.3 443.0,297.5 444.0,297.6 C445.0,297.7 446.0,297.8 447.0,297.9 C448.0,298.0 449.0,298.2 450.0,298.3 C451.0,298.4 452.0,298.5 453.0,298.6 C454.0,298.8 455.0,298.9 456.0,299.0 C457.0,299.1 458.0,299.2 459.0,299.3 C460.0,299.4 461.0,299.5 462.0,299.6 C463.0,299.7 464.0,299.8 465.0,299.9 C466.0,300.0 467.0,300.1 468.0,300.2 C469.0,300.3 470.0,300.3 471.0,300.4 C472.0,300.5 473.0,300.5 474.0,300.6 C475.0,300.7 476.0,300.8 477.0,300.8 C478.0,300.9 479.0,301.0 480.0,301.1 C481.0,301.1 482.0,301.2 483.0,301.3 C484.0,301.4 485.0,301.5 486.0,301.6 C487.0,301.7 488.0,301.8 489.0,301.9 C490.0,302.0 491.0,302.1 492.0,302.2 C493.0,302.3 494.0,302.4 495.0,302.5 C496.0,302.6 497.0,302.7 498.0,302.8 C499.0,302.9 500.0,303.0 501.0,303.1 C502.0,303.2 503.0,303.3 504.0,303.4 C505.0,303.5 506.0,303.6 507.0,303.7 C508.0,303.7 509.0,303.8 510.0,303.9 C511.0,304.0 512.0,304.1 513.0,304.2 C514.0,304.2 515.0,304.3 516.0,304.4 C517.0,304.5 518.0,304.6 519.0,304.7 C520.0,304.7 521.0,304.8 522.0,304.9 C523.0,305.0 524.0,305.1 525.0,305.2 C526.0,305.3 527.0,305.4 528.0,305.5 C529.0,305.6 530.0,305.7 531.0,305.8 C532.0,305.9 533.0,306.1 534.0,306.2 C535.0,306.3 536.0,306.4 537.0,306.5 C538.0,306.6 539.0,306.7 540.0,306.8 C541.0,306.9 542.0,306.9 543.0,307.0 C544.0,307.1 545.0,307.1 546.0,307.2 C547.0,307.2 548.0,307.3 549.0,307.3 C550.0,307.4 551.0,307.4 552.0,307.5 C553.0,307.5 554.0,307.6 555.0,307.6 C556.0,307.7 557.0,307.7 558.0,307.8 C559.0,307.8 560.0,307.9 561.0,307.9 C562.0,308.0 563.0,308.0 564.0,308.1 C565.0,308.1 566.0,308.2 567.0,308.2 C568.0,308.2 569.0,308.3 570.0,308.3 C571.0,308.4 572.0,308.4 573.0,308.5 C574.0,308.5 575.0,308.6 576.0,308.6 C577.0,308.6 578.0,308.7 579.0,308.7 C580.0,308.8 581.0,308.8 582.0,308.9 C583.0,308.9 584.0,308.9 585.0,309.0 C586.0,309.0 587.0,309.1 588.0,309.1 C589.0,309.1 590.0,309.2 591.0,309.2 C592.0,309.2 593.0,309.2 594.0,309.3 C595.0,309.3 596.0,309.3 597.0,309.3 C598.0,309.3 599.0,309.3 600.0,309.4 C601.0,309.4 602.0,309.4 603.0,309.4 C604.0,309.4 605.0,309.5 606.0,309.5 C607.0,309.5 608.0,309.5 609.0,309.5 C610.0,309.5 611.0,309.5 612.0,309.6 C613.0,309.6 614.0,309.6 615.0,309.6 C616.0,309.6 617.0,309.7 618.0,309.7 C619.0,309.7 620.0,309.7 621.0,309.7 C622.0,309.7 623.0,309.8 624.0,309.8 C625.0,309.8 626.0,309.8 627.0,309.8 C628.0,309.8 629.2,309.9 630.0,309.9 C630.8,309.9 631.7,309.9 632.0,309.9" stroke="#4472C4"/>
<path d="M78.0,307.2 C78.5,307.2 80.0,307.2 81.0,307.2 C82.0,307.3 83.0,307.3 84.0,307.3 C85.0,307.3 86.0,307.3 87.0,307.3 C88.0,307.3 89.0,307.4 90.0,307.4 C91.0,307.4 92.0,307.4 93.0,307.4 C94.0,307.4 95.0,307.5 96.0,307.5 C97.0,307.5 98.0,307.5 99.0,307.5 C100.0,307.5 101.0,307.5 102.0,307.6 C103.0,307.6 104.0,307.6 105.0,307.6 C106.0,307.6 107.0,307.6 108.0,307.6 C109.0,307.7 110.0,307.7 111.0,307.7 C112.0,307.7 113.0,307.7 114.0,307.7 C115.0,307.8 116.0,307.8 117.0,307.8 C118.0,307.8 119.0,307.8 120.0,307.8 C121.0,307.8 122.0,307.8 123.0,307.8 C124.0,307.8 125.0,307.8 126.0,307.8 C127.0,307.8 128.0,307.8 129.0,307.8 C130.0,307.8 131.0,307.8 132.0,307.7 C133.0,307.7 134.0,307.7 135.0,307.7 C136.0,307.7 137.0,307.6 138.0,307.6 C139.0,307.6 140.0,307.6 141.0,307.5 C142.0,307.5 143.0,307.5 144.0,307.5 C145.0,307.5 146.0,307.4 147.0,307.4 C148.0,307.4 149.0,307.4 150.0,307.3 C151.0,307.3 152.0,307.3 153.0,307.3 C154.0,307.3 155.0,307.2 156.0,307.2 C157.0,307.2 158.0,307.2 159.0,307.1 C160.0,307.1 161.0,307.1 162.0,307.1 C163.0,307.1 164.0,307.0 165.0,307.0 C166.0,307.0 167.0,307.0 168.0,306.9 C169.0,306.9 170.0,306.9 171.0,306.9 C172.0,306.9 173.0,306.9 174.0,306.8 C175.0,306.8 176.0,306.8 177.0,306.8 C178.0,306.8 179.0,306.8 180.0,306.7 C181.0,306.7 182.0,306.7 183.0,306.7 C184.0,306.7 185.0,306.7 186.0,306.6 C187.0,306.6 188.0,306.6 189.0,306.6 C190.0,306.6 191.0,306.6 192.0,306.5 C193.0,306.5 194.0,306.5 195.0,306.5 C196.0,306.5 197.0,306.4 198.0,306.4 C199.0,306.4 200.0,306.4 201.0,306.3 C202.0,306.3 203.0,306.3 204.0,306.3 C205.0,306.2 206.0,306.2 207.0,306.1 C208.0,306.1 209.0,306.1 210.0,306.0 C211.0,306.0 212.0,306.0 213.0,305.9 C214.0,305.9 215.0,305.9 216.0,305.8 C217.0,305.8 218.0,305.8 219.0,305.7 C220.0,305.7 221.0,305.7 222.0,305.6 C223.0,305.6 224.0,305.5 225.0,305.5 C226.0,305.5 227.0,305.4 228.0,305.4 C229.0,305.4 230.0,305.3 231.0,305.3 C232.0,305.3 233.0,305.2 234.0,305.2 C235.0,305.2 236.0,305.2 237.0,305.1 C238.0,305.1 239.0,305.1 240.0,305.0 C241.0,305.0 242.0,305.0 243.0,304.9 C244.0,304.9 245.0,304.9 246.0,304.8 C247.0,304.8 248.0,304.8 249.0,304.7 C250.0,304.7 251.0,304.7 252.0,304.6 C253.0,304.6 254.0,304.6 255.0,304.5 C256.0,304.5 257.0,304.5 258.0,304.4 C259.0,304.4 260.0,304.3 261.0,304.3 C262.0,304.2 263.0,304.2 264.0,304.1 C265.0,304.1 266.0,304.0 267.0,303.9 C268.0,303.9 269.0,303.8 270.0,303.8 C271.0,303.7 272.0,303.7 273.0,303.6 C274.0,303.6 275.0,303.5 276.0,303.5 C277.0,303.4 278.0,303.4 279.0,303.4 C280.0,303.3 281.0,303.3 282.0,303.3 C283.0,303.2 284.0,303.2 285.0,303.1 C286.0,303.1 287.0,303.1 288.0,303.0 C289.0,303.0 290.0,303.0 291.0,302.9 C292.0,302.9 293.0,302.9 294.0,302.8 C295.0,302.8 296.0,302.7 297.0,302.7 C298.0,302.7 299.0,302.6 300.0,302.6 C301.0,302.6 302.0,302.5 303.0,302.5 C304.0,302.5 305.0,302.4 306.0,302.4 C307.0,302.4 308.0,302.3 309.0,302.3 C310.0,302.3 311.0,302.3 312.0,302.2 C313.0,302.2 314.0,302.2 315.0,302.2 C316.0,302.1 317.0,302.1 318.0,302.1 C319.0,302.1 320.0,302.1 321.0,302.0 C322.0,302.0 323.0,302.0 324.0,302.0 C325.0,302.0 326.0,302.0 327.0,301.9 C328.0,301.9 329.0,301.9 330.0,301.9 C331.0,301.9 332.0,301.8 333.0,301.8 C334.0,301.8 335.0,301.8 336.0,301.8 C337.0,301.7 338.0,301.7 339.0,301.7 C340.0,301.7 341.0,301.7 342.0,301.6 C343.0,301.6 344.0,301.6 345.0,301.6 C346.0,301.6 347.0,301.5 348.0,301.5 C349.0,301.5 350.0,301.5 351.0,301.5 C352.0,301.4 353.0,301.4 354.0,301.4 C355.0,301.4 356.0,301.4 357.0,301.4 C358.0,301.3 359.0,301.3 360.0,301.3 C361.0,301.3 362.0,301.3 363.0,301.2 C364.0,301.2 365.0,301.2 366.0,301.2 C367.0,301.2 368.0,301.2 369.0,301.1 C370.0,301.1 371.0,301.1 372.0,301.1 C373.0,301.1 374.0,301.1 375.0,301.1 C376.0,301.1 377.0,301.1 378.0,301.1 C379.0,301.1 380.0,301.1 381.0,301.1 C382.0,301.1 383.0,301.1 384.0,301.1 C385.0,301.0 386.0,301.0 387.0,301.0 C388.0,301.0 389.0,301.0 390.0,301.0 C391.0,301.0 392.0,301.0 393.0,301.0 C394.0,301.0 395.0,301.0 396.0,301.0 C397.0,301.0 398.0,301.0 399.0,301.0 C400.0,301.1 401.0,301.1 402.0,301.1 C403.0,301.1 404.0,301.1 405.0,301.2 C406.0,301.2 407.0,301.2 408.0,301.3 C409.0,301.3 410.0,301.3 411.0,301.4 C412.0,301.4 413.0,301.4 414.0,301.5 C415.0,301.5 416.0,301.5 417.0,301.6 C418.0,301.6 419.0,301.7 420.0,301.7 C421.0,301.7 422.0,301.8 423.0,301.8 C424.0,301.8 425.0,301.9 426.0,301.9 C427.0,301.9 428.0,302.0 429.0,302.0 C430.0,302.0 431.0,302.1 432.0,302.1 C433.0,302.1 434.0,302.2 435.0,302.2 C436.0,302.3 437.0,302.3 438.0,302.4 C439.0,302.4 440.0,302.5 441.0,302.5 C442.0,302.6 443.0,302.7 444.0,302.7 C445.0,302.8 446.0,302.8 447.0,302.9 C448.0,302.9 449.0,303.0 450.0,303.1 C451.0,303.1 452.0,303.2 453.0,303.2 C454.0,303.3 455.0,303.3 456.0,303.4 C457.0,303.5 458.0,303.5 459.0,303.6 C460.0,303.6 461.0,303.7 462.0,303.7 C463.0,303.8 464.0,303.9 465.0,303.9 C466.0,304.0 467.0,304.0 468.0,304.1 C469.0,304.1 470.0,304.2 471.0,304.2 C472.0,304.3 473.0,304.3 474.0,304.4 C475.0,304.4 476.0,304.5 477.0,304.5 C478.0,304.6 479.0,304.6 480.0,304.7 C481.0,304.7 482.0,304.8 483.0,304.8 C484.0,304.9 485.0,304.9 486.0,304.9 C487.0,305.0 488.0,305.0 489.0,305.1 C490.0,305.1 491.0,305.1 492.0,305.2 C493.0,305.2 494.0,305.3 495.0,305.3 C496.0,305.3 497.0,305.4 498.0,305.4 C499.0,305.5 500.0,305.5 501.0,305.5 C502.0,305.6 503.0,305.6 504.0,305.7 C505.0,305.7 506.0,305.7 507.0,305.8 C508.0,305.8 509.0,305.9 510.0,305.9 C511.0,305.9 512.0,306.0 513.0,306.0 C514.0,306.1 515.0,306.1 516.0,306.2 C517.0,306.2 518.0,306.3 519.0,306.3 C520.0,306.4 521.0,306.4 522.0,306.5 C523.0,306.5 524.0,306.6 525.0,306.6 C526.0,306.7 527.0,306.7 528.0,306.8 C529.0,306.8 530.0,306.9 531.0,306.9 C532.0,307.0 533.0,307.0 534.0,307.1 C535.0,307.1 536.0,307.2 537.0,307.2 C538.0,307.3 539.0,307.3 540.0,307.4 C541.0,307.4 542.0,307.5 543.0,307.5 C544.0,307.6 545.0,307.6 546.0,307.6 C547.0,307.7 548.0,307.7 549.0,307.8 C550.0,307.8 551.0,307.8 552.0,307.9 C553.0,307.9 554.0,308.0 555.0,308.0 C556.0,308.0 557.0,308.1 558.0,308.1 C559.0,308.2 560.0,308.2 561.0,308.2 C562.0,308.3 563.0,308.3 564.0,308.3 C565.0,308.4 566.0,308.4 567.0,308.5 C568.0,308.5 569.0,308.5 570.0,308.6 C571.0,308.6 572.0,308.6 573.0,308.7 C574.0,308.7 575.0,308.8 576.0,308.8 C577.0,308.8 578.0,308.9 579.0,308.9 C580.0,308.9 581.0,309.0 582.0,309.0 C583.0,309.0 584.0,309.1 585.0,309.1 C586.0,309.1 587.0,309.2 588.0,309.2 C589.0,309.2 590.0,309.3 591.0,309.3 C592.0,309.3 593.0,309.3 594.0,309.3 C595.0,309.4 596.0,309.4 597.0,309.4 C598.0,309.4 599.0,309.4 600.0,309.4 C601.0,309.5 602.0,309.5 603.0,309.5 C604.0,309.5 605.0,309.5 606.0,309.5 C607.0,309.5 608.0,309.6 609.0,309.6 C610.0,309.6 611.0,309.6 612.0,309.6 C613.0,309.6 614.0,309.6 615.0,309.7 C616.0,309.7 617.0,309.7 618.0,309.7 C619.0,309.7 620.0,309.7 621.0,309.7 C622.0,309.8 623.0,309.8 624.0,309.8 C625.0,309.8 626.0,309.8 627.0,309.8 C628.0,309.8 629.2,309.9 630.0,309.9 C630.8,309.9 631.7,309.9 632.0,309.9" stroke="#70AD47"/>
<path d="M78.0,308.5 C78.5,308.5 80.0,308.5 81.0,308.5 C82.0,308.5 83.0,308.5 84.0,308.5 C85.0,308.5 86.0,308.6 87.0,308.6 C88.0,308.6 89.0,308.6 90.0,308.6 C91.0,308.6 92.0,308.6 93.0,308.6 C94.0,308.6 95.0,308.6 96.0,308.6 C97.0,308.6 98.0,308.6 99.0,308.6 C100.0,308.6 101.0,308.6 102.0,308.7 C103.0,308.7 104.0,308.7 105.0,308.7 C106.0,308.7 107.0,308.7 108.0,308.7 C109.0,308.7 110.0,308.7 111.0,308.7 C112.0,308.7 113.0,308.7 114.0,308.7 C115.0,308.7 116.0,308.7 117.0,308.7 C118.0,308.8 119.0,308.8 120.0,308.8 C121.0,308.8 122.0,308.8 123.0,308.8 C124.0,308.8 125.0,308.8 126.0,308.8 C127.0,308.7 128.0,308.7 129.0,308.7 C130.0,308.7 131.0,308.7 132.0,308.7 C133.0,308.7 134.0,308.6 135.0,308.6 C136.0,308.6 137.0,308.6 138.0,308.6 C139.0,308.6 140.0,308.5 141.0,308.5 C142.0,308.5 143.0,308.5 144.0,308.5 C145.0,308.4 146.0,308.4 147.0,308.4 C148.0,308.4 149.0,308.4 150.0,308.4 C151.0,308.3 152.0,308.3 153.0,308.3 C154.0,308.3 155.0,308.3 156.0,308.2 C157.0,308.2 158.0,308.2 159.0,308.2 C160.0,308.2 161.0,308.2 162.0,308.1 C163.0,308.1 164.0,308.1 165.0,308.1 C166.0,308.1 167.0,308.1 168.0,308.0 C169.0,308.0 170.0,308.0 171.0,308.0 C172.0,308.0 173.0,307.9 174.0,307.9 C175.0,307.9 176.0,307.9 177.0,307.9 C178.0,307.8 179.0,307.8 180.0,307.8 C181.0,307.8 182.0,307.8 183.0,307.8 C184.0,307.7 185.0,307.7 186.0,307.7 C187.0,307.7 188.0,307.7 189.0,307.6 C190.0,307.6 191.0,307.6 192.0,307.6 C193.0,307.6 194.0,307.5 195.0,307.5 C196.0,307.5 197.0,307.5 198.0,307.5 C199.0,307.5 200.0,307.4 201.0,307.4 C202.0,307.4 203.0,307.4 204.0,307.4 C205.0,307.3 206.0,307.3 207.0,307.3 C208.0,307.3 209.0,307.3 210.0,307.2 C211.0,307.2 212.0,307.2 213.0,307.2 C214.0,307.2 215.0,307.2 216.0,307.1 C217.0,307.1 218.0,307.1 219.0,307.1 C220.0,307.1 221.0,307.0 222.0,307.0 C223.0,307.0 224.0,307.0 225.0,307.0 C226.0,306.9 227.0,306.9 228.0,306.9 C229.0,306.9 230.0,306.9 231.0,306.8 C232.0,306.8 233.0,306.8 234.0,306.8 C235.0,306.8 236.0,306.8 237.0,306.7 C238.0,306.7 239.0,306.7 240.0,306.7 C241.0,306.7 242.0,306.6 243.0,306.6 C244.0,306.6 245.0,306.6 246.0,306.6 C247.0,306.5 248.0,306.5 249.0,306.5 C250.0,306.5 251.0,306.5 252.0,306.5 C253.0,306.4 254.0,306.4 255.0,306.4 C256.0,306.4 257.0,306.4 258.0,306.3 C259.0,306.3 260.0,306.3 261.0,306.3 C262.0,306.3 263.0,306.3 264.0,306.3 C265.0,306.3 266.0,306.2 267.0,306.2 C268.0,306.2 269.0,306.2 270.0,306.2 C271.0,306.2 272.0,306.2 273.0,306.2 C274.0,306.2 275.0,306.2 276.0,306.2 C277.0,306.1 278.0,306.1 279.0,306.1 C280.0,306.1 281.0,306.1 282.0,306.1 C283.0,306.1 284.0,306.1 285.0,306.1 C286.0,306.1 287.0,306.1 288.0,306.0 C289.0,306.0 290.0,306.0 291.0,306.0 C292.0,306.0 293.0,306.0 294.0,306.0 C295.0,306.0 296.0,306.0 297.0,306.0 C298.0,306.0 299.0,305.9 300.0,305.9 C301.0,305.9 302.0,305.9 303.0,305.9 C304.0,305.9 305.0,305.9 306.0,305.9 C307.0,305.9 308.0,305.9 309.0,305.9 C310.0,305.8 311.0,305.8 312.0,305.8 C313.0,305.8 314.0,305.8 315.0,305.8 C316.0,305.8 317.0,305.8 318.0,305.8 C319.0,305.8 320.0,305.8 321.0,305.7 C322.0,305.7 323.0,305.7 324.0,305.7 C325.0,305.7 326.0,305.7 327.0,305.7 C328.0,305.7 329.0,305.7 330.0,305.7 C331.0,305.7 332.0,305.6 333.0,305.6 C334.0,305.6 335.0,305.6 336.0,305.6 C337.0,305.6 338.0,305.6 339.0,305.6 C340.0,305.6 341.0,305.6 342.0,305.6 C343.0,305.5 344.0,305.5 345.0,305.5 C346.0,305.5 347.0,305.5 348.0,305.5 C349.0,305.5 350.0,305.5 351.0,305.5 C352.0,305.5 353.0,305.5 354.0,305.4 C355.0,305.4 356.0,305.4 357.0,305.4 C358.0,305.4 359.0,305.4 360.0,305.4 C361.0,305.4 362.0,305.4 363.0,305.4 C364.0,305.4 365.0,305.3 366.0,305.3 C367.0,305.3 368.0,305.3 369.0,305.3 C370.0,305.3 371.0,305.3 372.0,305.3 C373.0,305.3 374.0,305.3 375.0,305.3 C376.0,305.3 377.0,305.3 378.0,305.3 C379.0,305.3 380.0,305.3 381.0,305.4 C382.0,305.4 383.0,305.4 384.0,305.4 C385.0,305.4 386.0,305.4 387.0,305.4 C388.0,305.4 389.0,305.4 390.0,305.4 C391.0,305.4 392.0,305.4 393.0,305.4 C394.0,305.4 395.0,305.4 396.0,305.4 C397.0,305.4 398.0,305.4 399.0,305.4 C400.0,305.4 401.0,305.4 402.0,305.4 C403.0,305.5 404.0,305.5 405.0,305.5 C406.0,305.5 407.0,305.5 408.0,305.5 C409.0,305.5 410.0,305.5 411.0,305.5 C412.0,305.5 413.0,305.5 414.0,305.5 C415.0,305.5 416.0,305.5 417.0,305.5 C418.0,305.5 419.0,305.5 420.0,305.5 C421.0,305.5 422.0,305.5 423.0,305.5 C424.0,305.5 425.0,305.6 426.0,305.6 C427.0,305.6 428.0,305.6 429.0,305.6 C430.0,305.6 431.0,305.6 432.0,305.6 C433.0,305.6 434.0,305.6 435.0,305.6 C436.0,305.6 437.0,305.7 438.0,305.7 C439.0,305.7 440.0,305.7 441.0,305.7 C442.0,305.8 443.0,305.8 444.0,305.8 C445.0,305.8 446.0,305.9 447.0,305.9 C448.0,305.9 449.0,305.9 450.0,306.0 C451.0,306.0 452.0,306.0 453.0,306.0 C454.0,306.1 455.0,306.1 456.0,306.1 C457.0,306.1 458.0,306.2 459.0,306.2 C460.0,306.2 461.0,306.2 462.0,306.2 C463.0,306.3 464.0,306.3 465.0,306.3 C466.0,306.3 467.0,306.4 468.0,306.4 C469.0,306.4 470.0,306.4 471.0,306.5 C472.0,306.5 473.0,306.5 474.0,306.5 C475.0,306.6 476.0,306.6 477.0,306.6 C478.0,306.6 479.0,306.7 480.0,306.7 C481.0,306.7 482.0,306.7 483.0,306.8 C484.0,306.8 485.0,306.8 486.0,306.8 C487.0,306.9 488.0,306.9 489.0,306.9 C490.0,307.0 491.0,307.0 492.0,307.0 C493.0,307.0 494.0,307.1 495.0,307.1 C496.0,307.1 497.0,307.2 498.0,307.2 C499.0,307.2 500.0,307.3 501.0,307.3 C502.0,307.3 503.0,307.4 504.0,307.4 C505.0,307.4 506.0,307.4 507.0,307.5 C508.0,307.5 509.0,307.5 510.0,307.6 C511.0,307.6 512.0,307.6 513.0,307.7 C514.0,307.7 515.0,307.7 516.0,307.8 C517.0,307.8 518.0,307.8 519.0,307.9 C520.0,307.9 521.0,307.9 522.0,307.9 C523.0,308.0 524.0,308.0 525.0,308.0 C526.0,308.1 527.0,308.1 528.0,308.1 C529.0,308.2 530.0,308.2 531.0,308.2 C532.0,308.3 533.0,308.3 534.0,308.3 C535.0,308.3 536.0,308.4 537.0,308.4 C538.0,308.4 539.0,308.5 540.0,308.5 C541.0,308.5 542.0,308.5 543.0,308.6 C544.0,308.6 545.0,308.6 546.0,308.6 C547.0,308.6 548.0,308.7 549.0,308.7 C550.0,308.7 551.0,308.7 552.0,308.7 C553.0,308.8 554.0,308.8 555.0,308.8 C556.0,308.8 557.0,308.8 558.0,308.9 C559.0,308.9 560.0,308.9 561.0,308.9 C562.0,308.9 563.0,309.0 564.0,309.0 C565.0,309.0 566.0,309.0 567.0,309.0 C568.0,309.1 569.0,309.1 570.0,309.1 C571.0,309.1 572.0,309.1 573.0,309.2 C574.0,309.2 575.0,309.2 576.0,309.2 C577.0,309.2 578.0,309.3 579.0,309.3 C580.0,309.3 581.0,309.3 582.0,309.3 C583.0,309.4 584.0,309.4 585.0,309.4 C586.0,309.4 587.0,309.4 588.0,309.5 C589.0,309.5 590.0,309.5 591.0,309.5 C592.0,309.5 593.0,309.5 594.0,309.5 C595.0,309.6 596.0,309.6 597.0,309.6 C598.0,309.6 599.0,309.6 600.0,309.6 C601.0,309.6 602.0,309.6 603.0,309.7 C604.0,309.7 605.0,309.7 606.0,309.7 C607.0,309.7 608.0,309.7 609.0,309.7 C610.0,309.7 611.0,309.8 612.0,309.8 C613.0,309.8 614.0,309.8 615.0,309.8 C616.0,309.8 617.0,309.8 618.0,309.8 C619.0,309.8 620.0,309.9 621.0,309.9 C622.0,309.9 623.0,309.9 624.0,309.9 C625.0,309.9 626.0,309.9 627.0,309.9 C628.0,310.0 629.2,310.0 630.0,310.0 C630.8,310.0 631.7,310.0 632.0,310.0" stroke="#255E91"/>
<path d="M78.0,309.6 C78.5,309.6 80.0,309.6 81.0,309.6 C82.0,309.6 83.0,309.6 84.0,309.6 C85.0,309.6 86.0,309.6 87.0,309.6 C88.0,309.6 89.0,309.6 90.0,309.6 C91.0,309.6 92.0,309.6 93.0,309.6 C94.0,309.6 95.0,309.6 96.0,309.6 C97.0,309.6 98.0,309.6 99.0,309.6 C100.0,309.6 101.0,309.6 102.0,309.5 C103.0,309.5 104.0,309.5 105.0,309.5 C106.0,309.5 107.0,309.5 108.0,309.5 C109.0,309.5 110.0,309.5 111.0,309.5 C112.0,309.5 113.0,309.5 114.0,309.5 C115.0,309.5 116.0,309.5 117.0,309.5 C118.0,309.5 119.0,309.5 120.0,309.5 C121.0,309.5 122.0,309.5 123.0,309.5 C124.0,309.5 125.0,309.5 126.0,309.5 C127.0,309.5 128.0,309.5 129.0,309.5 C130.0,309.5 131.0,309.5 132.0,309.5 C133.0,309.5 134.0,309.5 135.0,309.5 C136.0,309.5 137.0,309.5 138.0,309.5 C139.0,309.5 140.0,309.5 141.0,309.5 C142.0,309.5 143.0,309.5 144.0,309.5 C145.0,309.5 146.0,309.5 147.0,309.4 C148.0,309.4 149.0,309.4 150.0,309.4 C151.0,309.4 152.0,309.4 153.0,309.4 C154.0,309.4 155.0,309.4 156.0,309.4 C157.0,309.4 158.0,309.4 159.0,309.4 C160.0,309.4 161.0,309.4 162.0,309.4 C163.0,309.4 164.0,309.4 165.0,309.4 C166.0,309.4 167.0,309.4 168.0,309.4 C169.0,309.4 170.0,309.4 171.0,309.4 C172.0,309.4 173.0,309.4 174.0,309.4 C175.0,309.4 176.0,309.4 177.0,309.3 C178.0,309.3 179.0,309.3 180.0,309.3 C181.0,309.3 182.0,309.3 183.0,309.3 C184.0,309.3 185.0,309.3 186.0,309.3 C187.0,309.3 188.0,309.3 189.0,309.3 C190.0,309.2 191.0,309.2 192.0,309.2 C193.0,309.2 194.0,309.2 195.0,309.2 C196.0,309.2 197.0,309.2 198.0,309.2 C199.0,309.2 200.0,309.2 201.0,309.2 C202.0,309.2 203.0,309.1 204.0,309.1 C205.0,309.1 206.0,309.1 207.0,309.1 C208.0,309.1 209.0,309.1 210.0,309.1 C211.0,309.1 212.0,309.1 213.0,309.1 C214.0,309.1 215.0,309.1 216.0,309.0 C217.0,309.0 218.0,309.0 219.0,309.0 C220.0,309.0 221.0,309.0 222.0,309.0 C223.0,309.0 224.0,309.0 225.0,309.0 C226.0,309.0 227.0,309.0 228.0,308.9 C229.0,308.9 230.0,308.9 231.0,308.9 C232.0,308.9 233.0,308.9 234.0,308.9 C235.0,308.9 236.0,308.9 237.0,308.9 C238.0,308.9 239.0,308.9 240.0,308.9 C241.0,308.8 242.0,308.8 243.0,308.8 C244.0,308.8 245.0,308.8 246.0,308.8 C247.0,308.8 248.0,308.8 249.0,308.8 C250.0,308.8 251.0,308.8 252.0,308.8 C253.0,308.8 254.0,308.7 255.0,308.7 C256.0,308.7 257.0,308.7 258.0,308.7 C259.0,308.7 260.0,308.7 261.0,308.7 C262.0,308.7 263.0,308.7 264.0,308.7 C265.0,308.7 266.0,308.7 267.0,308.6 C268.0,308.6 269.0,308.6 270.0,308.6 C271.0,308.6 272.0,308.6 273.0,308.6 C274.0,308.6 275.0,308.6 276.0,308.6 C277.0,308.6 278.0,308.6 279.0,308.5 C280.0,308.5 281.0,308.5 282.0,308.5 C283.0,308.5 284.0,308.5 285.0,308.5 C286.0,308.5 287.0,308.5 288.0,308.5 C289.0,308.5 290.0,308.5 291.0,308.4 C292.0,308.4 293.0,308.4 294.0,308.4 C295.0,308.4 296.0,308.4 297.0,308.4 C298.0,308.4 299.0,308.4 300.0,308.4 C301.0,308.4 302.0,308.4 303.0,308.3 C304.0,308.3 305.0,308.3 306.0,308.3 C307.0,308.3 308.0,308.3 309.0,308.3 C310.0,308.3 311.0,308.3 312.0,308.3 C313.0,308.3 314.0,308.3 315.0,308.3 C316.0,308.2 317.0,308.2 318.0,308.2 C319.0,308.2 320.0,308.2 321.0,308.2 C322.0,308.2 323.0,308.2 324.0,308.2 C325.0,308.2 326.0,308.2 327.0,308.2 C328.0,308.1 329.0,308.1 330.0,308.1 C331.0,308.1 332.0,308.1 333.0,308.1 C334.0,308.1 335.0,308.1 336.0,308.1 C337.0,308.1 338.0,308.1 339.0,308.1 C340.0,308.0 341.0,308.0 342.0,308.0 C343.0,308.0 344.0,308.0 345.0,308.0 C346.0,308.0 347.0,308.0 348.0,308.0 C349.0,308.0 350.0,308.0 351.0,308.0 C352.0,307.9 353.0,307.9 354.0,307.9 C355.0,307.9 356.0,307.9 357.0,307.9 C358.0,307.9 359.0,307.9 360.0,307.9 C361.0,307.9 362.0,307.9 363.0,307.9 C364.0,307.9 365.0,307.8 366.0,307.8 C367.0,307.8 368.0,307.8 369.0,307.8 C370.0,307.8 371.0,307.8 372.0,307.8 C373.0,307.8 374.0,307.8 375.0,307.8 C376.0,307.8 377.0,307.8 378.0,307.9 C379.0,307.9 380.0,307.9 381.0,307.9 C382.0,307.9 383.0,307.9 384.0,307.9 C385.0,307.9 386.0,307.9 387.0,307.9 C388.0,307.9 389.0,307.9 390.0,307.9 C391.0,307.9 392.0,308.0 393.0,308.0 C394.0,308.0 395.0,308.0 396.0,308.0 C397.0,308.0 398.0,308.0 399.0,308.0 C400.0,308.0 401.0,308.0 402.0,308.0 C403.0,308.0 404.0,308.0 405.0,308.0 C406.0,308.1 407.0,308.1 408.0,308.1 C409.0,308.1 410.0,308.1 411.0,308.1 C412.0,308.1 413.0,308.1 414.0,308.1 C415.0,308.1 416.0,308.1 417.0,308.1 C418.0,308.1 419.0,308.1 420.0,308.1 C421.0,308.2 422.0,308.2 423.0,308.2 C424.0,308.2 425.0,308.2 426.0,308.2 C427.0,308.2 428.0,308.2 429.0,308.2 C430.0,308.2 431.0,308.2 432.0,308.2 C433.0,308.2 434.0,308.2 435.0,308.3 C436.0,308.3 437.0,308.3 438.0,308.3 C439.0,308.3 440.0,308.3 441.0,308.3 C442.0,308.3 443.0,308.3 444.0,308.3 C445.0,308.3 446.0,308.3 447.0,308.3 C448.0,308.3 449.0,308.3 450.0,308.4 C451.0,308.4 452.0,308.4 453.0,308.4 C454.0,308.4 455.0,308.4 456.0,308.4 C457.0,308.4 458.0,308.4 459.0,308.4 C460.0,308.4 461.0,308.4 462.0,308.4 C463.0,308.4 464.0,308.5 465.0,308.5 C466.0,308.5 467.0,308.5 468.0,308.5 C469.0,308.5 470.0,308.5 471.0,308.5 C472.0,308.5 473.0,308.5 474.0,308.5 C475.0,308.5 476.0,308.5 477.0,308.5 C478.0,308.6 479.0,308.6 480.0,308.6 C481.0,308.6 482.0,308.6 483.0,308.6 C484.0,308.6 485.0,308.6 486.0,308.6 C487.0,308.6 488.0,308.7 489.0,308.7 C490.0,308.7 491.0,308.7 492.0,308.7 C493.0,308.7 494.0,308.7 495.0,308.8 C496.0,308.8 497.0,308.8 498.0,308.8 C499.0,308.8 500.0,308.8 501.0,308.9 C502.0,308.9 503.0,308.9 504.0,308.9 C505.0,308.9 506.0,308.9 507.0,309.0 C508.0,309.0 509.0,309.0 510.0,309.0 C511.0,309.0 512.0,309.0 513.0,309.1 C514.0,309.1 515.0,309.1 516.0,309.1 C517.0,309.1 518.0,309.1 519.0,309.2 C520.0,309.2 521.0,309.2 522.0,309.2 C523.0,309.2 524.0,309.2 525.0,309.3 C526.0,309.3 527.0,309.3 528.0,309.3 C529.0,309.3 530.0,309.3 531.0,309.4 C532.0,309.4 533.0,309.4 534.0,309.4 C535.0,309.4 536.0,309.4 537.0,309.4 C538.0,309.5 539.0,309.5 540.0,309.5 C541.0,309.5 542.0,309.5 543.0,309.5 C544.0,309.5 545.0,309.5 546.0,309.5 C547.0,309.5 548.0,309.5 549.0,309.5 C550.0,309.6 551.0,309.6 552.0,309.6 C553.0,309.6 554.0,309.6 555.0,309.6 C556.0,309.6 557.0,309.6 558.0,309.6 C559.0,309.6 560.0,309.6 561.0,309.6 C562.0,309.6 563.0,309.6 564.0,309.6 C565.0,309.6 566.0,309.6 567.0,309.6 C568.0,309.7 569.0,309.7 570.0,309.7 C571.0,309.7 572.0,309.7 573.0,309.7 C574.0,309.7 575.0,309.7 576.0,309.7 C577.0,309.7 578.0,309.7 579.0,309.7 C580.0,309.7 581.0,309.7 582.0,309.7 C583.0,309.7 584.0,309.7 585.0,309.7 C586.0,309.8 587.0,309.8 588.0,309.8 C589.0,309.8 590.0,309.8 591.0,309.8 C592.0,309.8 593.0,309.8 594.0,309.8 C595.0,309.8 596.0,309.8 597.0,309.8 C598.0,309.8 599.0,309.8 600.0,309.8 C601.0,309.8 602.0,309.8 603.0,309.8 C604.0,309.8 605.0,309.9 606.0,309.9 C607.0,309.9 608.0,309.9 609.0,309.9 C610.0,309.9 611.0,309.9 612.0,309.9 C613.0,309.9 614.0,309.9 615.0,309.9 C616.0,309.9 617.0,309.9 618.0,309.9 C619.0,309.9 620.0,309.9 621.0,309.9 C622.0,309.9 623.0,310.0 624.0,310.0 C625.0,310.0 626.0,310.0 627.0,310.0 C628.0,310.0 629.2,310.0 630.0,310.0 C630.8,310.0 631.7,310.0 632.0,310.0" stroke="#9E480E"/>
</g>
<text transform="translate(60.40,317.00) scale(1,1.06)" font-size="21" text-anchor="end">0</text>
<text transform="translate(60.40,257.20) scale(1,1.06)" font-size="21" text-anchor="end">0.2</text>
<text transform="translate(60.40,197.40) scale(1,1.06)" font-size="21" text-anchor="end">0.4</text>
<text transform="translate(60.40,137.60) scale(1,1.06)" font-size="21" text-anchor="end">0.6</text>
<text transform="translate(60.40,77.80) scale(1,1.06)" font-size="21" text-anchor="end">0.8</text>
<text transform="translate(60.40,18.00) scale(1,1.06)" font-size="21" text-anchor="end">1</text>
<text transform="translate(78.40,341.70) scale(1,1.06)" font-size="21" text-anchor="middle">300</text>
<text transform="translate(170.42,341.70) scale(1,1.06)" font-size="21" text-anchor="middle">350</text>
<text transform="translate(262.43,341.70) scale(1,1.06)" font-size="21" text-anchor="middle">400</text>
<text transform="translate(354.45,341.70) scale(1,1.06)" font-size="21" text-anchor="middle">450</text>
<text transform="translate(446.47,341.70) scale(1,1.06)" font-size="21" text-anchor="middle">500</text>
<text transform="translate(538.48,341.70) scale(1,1.06)" font-size="21" text-anchor="middle">550</text>
<text transform="translate(630.50,341.70) scale(1,1.06)" font-size="21" text-anchor="middle">600</text>
<text transform="translate(354.45,372.30) scale(1,1.06)" font-size="21" text-anchor="middle">&#955; (nm)</text>
<text transform="translate(21.00,170.00) rotate(-90) scale(1,1.06)" font-size="21" text-anchor="middle">Absorbance (a.u.)</text>
<text transform="translate(684,381.50) scale(1,1.06)" font-size="24" text-anchor="end">(a)</text>
<line x1="539.50" y1="32.70" x2="577.00" y2="32.70" stroke="#5B9BD5" stroke-width="3" stroke-linecap="round"/>
<text transform="translate(580.50,39.60) scale(1,1.06)" font-size="21">0 S</text>
<line x1="539.50" y1="62.33" x2="577.00" y2="62.33" stroke="#ED7D31" stroke-width="3" stroke-linecap="round"/>
<text transform="translate(580.50,69.23) scale(1,1.06)" font-size="21">10 S</text>
<line x1="539.50" y1="91.96" x2="577.00" y2="91.96" stroke="#A5A5A5" stroke-width="3" stroke-linecap="round"/>
<text transform="translate(580.50,98.86) scale(1,1.06)" font-size="21">20 S</text>
<line x1="539.50" y1="121.59" x2="577.00" y2="121.59" stroke="#FFC000" stroke-width="3" stroke-linecap="round"/>
<text transform="translate(580.50,128.49) scale(1,1.06)" font-size="21">30 S</text>
<line x1="539.50" y1="151.22" x2="577.00" y2="151.22" stroke="#4472C4" stroke-width="3" stroke-linecap="round"/>
<text transform="translate(580.50,158.12) scale(1,1.06)" font-size="21">40 S</text>
<line x1="539.50" y1="180.85" x2="577.00" y2="180.85" stroke="#70AD47" stroke-width="3" stroke-linecap="round"/>
<text transform="translate(580.50,187.75) scale(1,1.06)" font-size="21">50 S</text>
<line x1="539.50" y1="210.48" x2="577.00" y2="210.48" stroke="#255E91" stroke-width="3" stroke-linecap="round"/>
<text transform="translate(580.50,217.38) scale(1,1.06)" font-size="21">60 S</text>
<line x1="539.50" y1="240.11" x2="577.00" y2="240.11" stroke="#9E480E" stroke-width="3" stroke-linecap="round"/>
<text transform="translate(580.50,247.01) scale(1,1.06)" font-size="21">70 S</text>
<path d="M512.8,27.0 L526.3,27.0 L526.3,230.0 L533.0,230.0 L519.5,244.5 L506.0,230.0 L512.8,230.0 Z" fill="#FFC000"/>
<g stroke="#000" stroke-width="3" fill="none" stroke-linejoin="round">
<rect x="77.50" y="435.50" width="553.00" height="312.10"/>
<line x1="71.00" y1="747.60" x2="77.50" y2="747.60"/>
<line x1="71.00" y1="716.39" x2="77.50" y2="716.39"/>
<line x1="71.00" y1="685.18" x2="77.50" y2="685.18"/>
<line x1="71.00" y1="653.97" x2="77.50" y2="653.97"/>
<line x1="71.00" y1="622.76" x2="77.50" y2="622.76"/>
<line x1="71.00" y1="591.55" x2="77.50" y2="591.55"/>
<line x1="71.00" y1="560.34" x2="77.50" y2="560.34"/>
<line x1="71.00" y1="529.13" x2="77.50" y2="529.13"/>
<line x1="71.00" y1="497.92" x2="77.50" y2="497.92"/>
<line x1="71.00" y1="466.71" x2="77.50" y2="466.71"/>
<line x1="71.00" y1="435.50" x2="77.50" y2="435.50"/>
<line x1="77.50" y1="747.60" x2="77.50" y2="753.90"/>
<line x1="169.67" y1="747.60" x2="169.67" y2="753.90"/>
<line x1="261.83" y1="747.60" x2="261.83" y2="753.90"/>
<line x1="354.00" y1="747.60" x2="354.00" y2="753.90"/>
<line x1="446.17" y1="747.60" x2="446.17" y2="753.90"/>
<line x1="538.33" y1="747.60" x2="538.33" y2="753.90"/>
<line x1="630.50" y1="747.60" x2="630.50" y2="753.90"/>
</g>
<clipPath id="cb"><rect x="76.90" y="433.50" width="555.20" height="316.10"/></clipPath>
<g clip-path="url(#cb)" fill="none" stroke-width="3" stroke-linejoin="round">
<path d="M77.9,690.4 C78.4,690.5 79.9,690.9 80.9,691.2 C81.9,691.5 82.9,691.8 83.9,692.0 C84.9,692.3 85.9,692.6 86.9,692.9 C87.9,693.2 88.9,693.5 89.9,693.9 C90.9,694.3 91.9,694.8 92.9,695.2 C93.9,695.7 94.9,696.2 95.9,696.7 C96.9,697.3 97.9,697.8 98.9,698.4 C99.9,699.0 100.9,699.6 101.9,700.2 C102.9,700.8 103.9,701.4 104.9,701.9 C105.9,702.5 106.9,703.0 107.9,703.5 C108.9,704.0 109.9,704.5 110.9,704.9 C111.9,705.4 112.9,705.8 113.9,706.2 C114.9,706.7 115.9,707.0 116.9,707.5 C117.9,707.9 118.9,708.3 119.9,708.7 C120.9,709.1 121.9,709.6 122.9,710.0 C123.9,710.4 124.9,710.8 125.9,711.2 C126.9,711.5 127.9,711.8 128.9,712.1 C129.9,712.4 130.9,712.7 131.9,712.9 C132.9,713.1 133.9,713.3 134.9,713.4 C135.9,713.5 136.9,713.5 137.9,713.5 C138.9,713.4 139.9,713.3 140.9,713.1 C141.9,712.9 142.9,712.7 143.9,712.4 C144.9,712.1 145.9,711.7 146.9,711.3 C147.9,710.9 148.9,710.5 149.9,710.1 C150.9,709.6 151.9,709.1 152.9,708.6 C153.9,708.2 154.9,707.6 155.9,707.1 C156.9,706.6 157.9,706.1 158.9,705.6 C159.9,705.1 160.9,704.5 161.9,703.9 C162.9,703.3 163.9,702.6 164.9,701.9 C165.9,701.2 166.9,700.4 167.9,699.5 C168.9,698.7 169.9,697.7 170.9,696.8 C171.9,695.9 172.9,695.0 173.9,694.1 C174.9,693.3 175.9,692.4 176.9,691.6 C177.9,690.7 178.9,689.8 179.9,688.9 C180.9,687.9 181.9,687.0 182.9,686.0 C183.9,685.0 184.9,683.9 185.9,682.8 C186.9,681.7 187.9,680.6 188.9,679.4 C189.9,678.2 190.9,677.0 191.9,675.7 C192.9,674.5 193.9,673.2 194.9,671.9 C195.9,670.7 196.9,669.4 197.9,668.1 C198.9,666.9 199.9,665.6 200.9,664.4 C201.9,663.1 202.9,661.8 203.9,660.5 C204.9,659.2 205.9,658.0 206.9,656.8 C207.9,655.5 208.9,654.3 209.9,653.1 C210.9,651.8 211.9,650.4 212.9,649.0 C213.9,647.7 214.9,646.3 215.9,644.9 C216.9,643.6 217.9,642.2 218.9,640.9 C219.9,639.5 220.9,638.1 221.9,636.8 C222.9,635.5 223.9,634.2 224.9,632.9 C225.9,631.6 226.9,630.3 227.9,628.9 C228.9,627.5 229.9,626.0 230.9,624.5 C231.9,623.1 232.9,621.6 233.9,620.1 C234.9,618.7 235.9,617.3 236.9,615.9 C237.9,614.4 238.9,613.0 239.9,611.6 C240.9,610.2 241.9,608.8 242.9,607.4 C243.9,605.9 244.9,604.5 245.9,603.0 C246.9,601.5 247.9,600.0 248.9,598.5 C249.9,597.1 250.9,595.7 251.9,594.3 C252.9,593.0 253.9,591.7 254.9,590.4 C255.9,589.2 256.9,587.9 257.9,586.7 C258.9,585.5 259.9,584.3 260.9,583.1 C261.9,581.9 262.9,580.6 263.9,579.3 C264.9,578.0 265.9,576.6 266.9,575.3 C267.9,574.0 268.9,572.7 269.9,571.4 C270.9,570.1 271.9,568.9 272.9,567.7 C273.9,566.5 274.9,565.4 275.9,564.2 C276.9,563.0 277.9,561.9 278.9,560.7 C279.9,559.6 280.9,558.4 281.9,557.3 C282.9,556.2 283.9,555.0 284.9,554.0 C285.9,552.9 286.9,551.8 287.9,550.8 C288.9,549.8 289.9,548.9 290.9,547.9 C291.9,547.0 292.9,546.1 293.9,545.1 C294.9,544.2 295.9,543.2 296.9,542.2 C297.9,541.2 298.9,540.0 299.9,538.9 C300.9,537.8 301.9,536.6 302.9,535.5 C303.9,534.4 304.9,533.3 305.9,532.2 C306.9,531.2 307.9,530.2 308.9,529.2 C309.9,528.2 310.9,527.2 311.9,526.2 C312.9,525.2 313.9,524.3 314.9,523.3 C315.9,522.3 316.9,521.3 317.9,520.3 C318.9,519.3 319.9,518.3 320.9,517.3 C321.9,516.3 322.9,515.3 323.9,514.3 C324.9,513.4 325.9,512.4 326.9,511.5 C327.9,510.7 328.9,509.8 329.9,509.0 C330.9,508.2 331.9,507.4 332.9,506.6 C333.9,505.8 334.9,505.0 335.9,504.2 C336.9,503.4 337.9,502.6 338.9,501.8 C339.9,500.9 340.9,500.0 341.9,499.1 C342.9,498.2 343.9,497.3 344.9,496.5 C345.9,495.6 346.9,494.8 347.9,494.0 C348.9,493.2 349.9,492.5 350.9,491.8 C351.9,491.0 352.9,490.3 353.9,489.7 C354.9,489.0 355.9,488.3 356.9,487.7 C357.9,487.1 358.9,486.5 359.9,485.9 C360.9,485.4 361.9,484.8 362.9,484.3 C363.9,483.8 364.9,483.3 365.9,482.9 C366.9,482.5 367.9,482.1 368.9,481.8 C369.9,481.5 370.9,481.3 371.9,481.1 C372.9,480.8 373.9,480.7 374.9,480.5 C375.9,480.4 376.9,480.3 377.9,480.2 C378.9,480.1 379.9,480.0 380.9,480.1 C381.9,480.1 382.9,480.1 383.9,480.2 C384.9,480.4 385.9,480.5 386.9,480.8 C387.9,481.0 388.9,481.3 389.9,481.6 C390.9,482.0 391.9,482.4 392.9,482.8 C393.9,483.3 394.9,483.8 395.9,484.4 C396.9,484.9 397.9,485.5 398.9,486.2 C399.9,486.9 400.9,487.6 401.9,488.4 C402.9,489.1 403.9,490.0 404.9,490.9 C405.9,491.7 406.9,492.7 407.9,493.7 C408.9,494.7 409.9,495.8 410.9,496.9 C411.9,498.1 412.9,499.4 413.9,500.7 C414.9,502.1 415.9,503.6 416.9,505.1 C417.9,506.6 418.9,508.2 419.9,509.7 C420.9,511.2 421.9,512.6 422.9,514.1 C423.9,515.6 424.9,517.0 425.9,518.6 C426.9,520.1 427.9,521.7 428.9,523.3 C429.9,525.0 430.9,526.7 431.9,528.4 C432.9,530.1 433.9,531.8 434.9,533.6 C435.9,535.4 436.9,537.3 437.9,539.3 C438.9,541.2 439.9,543.4 440.9,545.5 C441.9,547.6 442.9,549.8 443.9,552.0 C444.9,554.2 445.9,556.6 446.9,558.8 C447.9,561.1 448.9,563.3 449.9,565.6 C450.9,567.8 451.9,570.1 452.9,572.4 C453.9,574.6 454.9,576.9 455.9,579.1 C456.9,581.3 457.9,583.5 458.9,585.7 C459.9,588.0 460.9,590.3 461.9,592.6 C462.9,594.8 463.9,597.2 464.9,599.5 C465.9,601.8 466.9,604.0 467.9,606.2 C468.9,608.5 469.9,610.6 470.9,612.8 C471.9,615.0 472.9,617.2 473.9,619.4 C474.9,621.6 475.9,623.8 476.9,625.9 C477.9,628.0 478.9,629.9 479.9,632.0 C480.9,634.0 481.9,636.0 482.9,638.1 C483.9,640.2 484.9,642.5 485.9,644.6 C486.9,646.7 487.9,648.8 488.9,650.7 C489.9,652.7 490.9,654.5 491.9,656.3 C492.9,658.1 493.9,659.9 494.9,661.6 C495.9,663.3 496.9,665.0 497.9,666.7 C498.9,668.4 499.9,669.9 500.9,671.6 C501.9,673.2 502.9,674.8 503.9,676.5 C504.9,678.1 505.9,679.8 506.9,681.5 C507.9,683.1 508.9,684.8 509.9,686.3 C510.9,687.8 511.9,689.2 512.9,690.6 C513.9,692.0 514.9,693.3 515.9,694.6 C516.9,695.9 517.9,697.2 518.9,698.4 C519.9,699.7 520.9,700.9 521.9,702.1 C522.9,703.3 523.9,704.5 524.9,705.7 C525.9,706.9 526.9,708.1 527.9,709.3 C528.9,710.4 529.9,711.5 530.9,712.6 C531.9,713.6 532.9,714.6 533.9,715.6 C534.9,716.5 535.9,717.4 536.9,718.2 C537.9,719.0 538.9,719.7 539.9,720.4 C540.9,721.1 541.9,721.8 542.9,722.4 C543.9,723.1 544.9,723.6 545.9,724.2 C546.9,724.8 547.9,725.3 548.9,725.8 C549.9,726.4 550.9,726.8 551.9,727.3 C552.9,727.8 553.9,728.2 554.9,728.6 C555.9,729.1 556.9,729.5 557.9,730.0 C558.9,730.4 559.9,730.9 560.9,731.3 C561.9,731.7 562.9,732.1 563.9,732.5 C564.9,732.8 565.9,733.2 566.9,733.5 C567.9,733.8 568.9,734.1 569.9,734.4 C570.9,734.7 571.9,735.0 572.9,735.2 C573.9,735.4 574.9,735.6 575.9,735.8 C576.9,736.0 577.9,736.1 578.9,736.3 C579.9,736.5 580.9,736.7 581.9,736.9 C582.9,737.2 583.9,737.5 584.9,737.8 C585.9,738.0 586.9,738.2 587.9,738.4 C588.9,738.5 589.9,738.6 590.9,738.6 C591.9,738.7 592.9,738.7 593.9,738.7 C594.9,738.7 595.9,738.7 596.9,738.7 C597.9,738.7 598.9,738.7 599.9,738.7 C600.9,738.7 601.9,738.7 602.9,738.7 C603.9,738.7 604.9,738.7 605.9,738.7 C606.9,738.7 607.9,738.7 608.9,738.7 C609.9,738.7 610.9,738.7 611.9,738.8 C612.9,738.9 613.9,739.0 614.9,739.1 C615.9,739.2 616.9,739.3 617.9,739.5 C618.9,739.6 619.9,739.7 620.9,739.8 C621.9,740.0 622.9,740.1 623.9,740.2 C624.9,740.4 625.9,740.5 626.9,740.6 C627.9,740.8 629.2,740.9 629.9,741.0 C630.6,741.1 631.1,741.2 631.3,741.2" stroke="#5B9BD5"/>
<path d="M77.9,725.7 C78.4,725.8 79.9,726.0 80.9,726.1 C81.9,726.3 82.9,726.4 83.9,726.6 C84.9,726.7 85.9,726.9 86.9,727.0 C87.9,727.2 88.9,727.4 89.9,727.6 C90.9,727.8 91.9,728.0 92.9,728.2 C93.9,728.4 94.9,728.6 95.9,728.9 C96.9,729.1 97.9,729.3 98.9,729.6 C99.9,729.8 100.9,730.0 101.9,730.2 C102.9,730.4 103.9,730.6 104.9,730.8 C105.9,731.0 106.9,731.2 107.9,731.3 C108.9,731.5 109.9,731.7 110.9,731.8 C111.9,732.0 112.9,732.1 113.9,732.3 C114.9,732.4 115.9,732.6 116.9,732.7 C117.9,732.8 118.9,733.0 119.9,733.1 C120.9,733.2 121.9,733.3 122.9,733.4 C123.9,733.5 124.9,733.6 125.9,733.7 C126.9,733.8 127.9,733.9 128.9,734.0 C129.9,734.1 130.9,734.2 131.9,734.3 C132.9,734.4 133.9,734.4 134.9,734.4 C135.9,734.5 136.9,734.5 137.9,734.5 C138.9,734.5 139.9,734.4 140.9,734.4 C141.9,734.3 142.9,734.3 143.9,734.2 C144.9,734.1 145.9,734.0 146.9,733.9 C147.9,733.8 148.9,733.7 149.9,733.6 C150.9,733.4 151.9,733.3 152.9,733.2 C153.9,733.0 154.9,732.8 155.9,732.6 C156.9,732.4 157.9,732.1 158.9,731.8 C159.9,731.5 160.9,731.2 161.9,730.9 C162.9,730.6 163.9,730.3 164.9,729.9 C165.9,729.6 166.9,729.3 167.9,729.0 C168.9,728.6 169.9,728.3 170.9,728.0 C171.9,727.6 172.9,727.3 173.9,726.9 C174.9,726.6 175.9,726.2 176.9,725.9 C177.9,725.5 178.9,725.1 179.9,724.7 C180.9,724.2 181.9,723.8 182.9,723.3 C183.9,722.9 184.9,722.4 185.9,721.9 C186.9,721.4 187.9,720.9 188.9,720.4 C189.9,719.9 190.9,719.4 191.9,718.9 C192.9,718.4 193.9,717.9 194.9,717.4 C195.9,716.9 196.9,716.4 197.9,715.9 C198.9,715.4 199.9,714.9 200.9,714.4 C201.9,713.9 202.9,713.4 203.9,712.9 C204.9,712.4 205.9,711.9 206.9,711.4 C207.9,710.9 208.9,710.4 209.9,709.9 C210.9,709.4 211.9,708.9 212.9,708.4 C213.9,707.9 214.9,707.5 215.9,707.0 C216.9,706.6 217.9,706.1 218.9,705.7 C219.9,705.3 220.9,704.8 221.9,704.4 C222.9,703.9 223.9,703.5 224.9,703.0 C225.9,702.5 226.9,702.0 227.9,701.5 C228.9,701.0 229.9,700.4 230.9,699.9 C231.9,699.3 232.9,698.8 233.9,698.2 C234.9,697.7 235.9,697.1 236.9,696.6 C237.9,696.0 238.9,695.5 239.9,694.9 C240.9,694.4 241.9,693.9 242.9,693.3 C243.9,692.8 244.9,692.2 245.9,691.7 C246.9,691.2 247.9,690.6 248.9,690.1 C249.9,689.6 250.9,689.1 251.9,688.6 C252.9,688.1 253.9,687.6 254.9,687.1 C255.9,686.6 256.9,686.1 257.9,685.6 C258.9,685.1 259.9,684.6 260.9,684.1 C261.9,683.6 262.9,683.1 263.9,682.6 C264.9,682.2 265.9,681.7 266.9,681.2 C267.9,680.7 268.9,680.2 269.9,679.7 C270.9,679.2 271.9,678.7 272.9,678.2 C273.9,677.7 274.9,677.3 275.9,676.8 C276.9,676.3 277.9,675.9 278.9,675.5 C279.9,675.0 280.9,674.6 281.9,674.2 C282.9,673.8 283.9,673.4 284.9,673.0 C285.9,672.6 286.9,672.2 287.9,671.8 C288.9,671.4 289.9,671.0 290.9,670.6 C291.9,670.2 292.9,669.8 293.9,669.4 C294.9,669.0 295.9,668.6 296.9,668.2 C297.9,667.8 298.9,667.4 299.9,667.1 C300.9,666.7 301.9,666.3 302.9,665.9 C303.9,665.5 304.9,665.1 305.9,664.7 C306.9,664.3 307.9,663.9 308.9,663.5 C309.9,663.1 310.9,662.7 311.9,662.3 C312.9,661.9 313.9,661.5 314.9,661.1 C315.9,660.7 316.9,660.3 317.9,659.9 C318.9,659.5 319.9,659.1 320.9,658.7 C321.9,658.3 322.9,658.0 323.9,657.6 C324.9,657.3 325.9,657.0 326.9,656.6 C327.9,656.3 328.9,655.9 329.9,655.6 C330.9,655.2 331.9,654.9 332.9,654.6 C333.9,654.2 334.9,653.9 335.9,653.6 C336.9,653.3 337.9,653.0 338.9,652.7 C339.9,652.4 340.9,652.1 341.9,651.8 C342.9,651.5 343.9,651.2 344.9,651.0 C345.9,650.7 346.9,650.4 347.9,650.2 C348.9,649.9 349.9,649.6 350.9,649.4 C351.9,649.1 352.9,648.8 353.9,648.5 C354.9,648.3 355.9,648.0 356.9,647.7 C357.9,647.4 358.9,647.1 359.9,646.9 C360.9,646.6 361.9,646.4 362.9,646.2 C363.9,646.0 364.9,645.8 365.9,645.6 C366.9,645.5 367.9,645.3 368.9,645.2 C369.9,645.1 370.9,645.0 371.9,644.9 C372.9,644.8 373.9,644.8 374.9,644.7 C375.9,644.7 376.9,644.6 377.9,644.6 C378.9,644.6 379.9,644.6 380.9,644.6 C381.9,644.6 382.9,644.7 383.9,644.7 C384.9,644.8 385.9,644.9 386.9,645.1 C387.9,645.2 388.9,645.3 389.9,645.5 C390.9,645.7 391.9,645.9 392.9,646.1 C393.9,646.3 394.9,646.6 395.9,646.8 C396.9,647.0 397.9,647.3 398.9,647.6 C399.9,647.8 400.9,648.1 401.9,648.4 C402.9,648.7 403.9,649.1 404.9,649.4 C405.9,649.8 406.9,650.1 407.9,650.5 C408.9,650.9 409.9,651.3 410.9,651.7 C411.9,652.2 412.9,652.6 413.9,653.0 C414.9,653.5 415.9,654.0 416.9,654.5 C417.9,655.0 418.9,655.5 419.9,656.0 C420.9,656.5 421.9,657.1 422.9,657.6 C423.9,658.2 424.9,658.8 425.9,659.4 C426.9,660.0 427.9,660.7 428.9,661.3 C429.9,661.9 430.9,662.6 431.9,663.3 C432.9,663.9 433.9,664.6 434.9,665.3 C435.9,666.0 436.9,666.7 437.9,667.5 C438.9,668.2 439.9,669.0 440.9,669.7 C441.9,670.5 442.9,671.3 443.9,672.1 C444.9,672.9 445.9,673.7 446.9,674.5 C447.9,675.3 448.9,676.1 449.9,677.0 C450.9,677.8 451.9,678.6 452.9,679.4 C453.9,680.2 454.9,681.0 455.9,681.8 C456.9,682.7 457.9,683.5 458.9,684.3 C459.9,685.2 460.9,686.0 461.9,686.9 C462.9,687.7 463.9,688.6 464.9,689.4 C465.9,690.3 466.9,691.2 467.9,692.2 C468.9,693.1 469.9,694.1 470.9,695.0 C471.9,696.0 472.9,697.0 473.9,698.0 C474.9,698.9 475.9,699.9 476.9,700.9 C477.9,701.8 478.9,702.7 479.9,703.6 C480.9,704.6 481.9,705.5 482.9,706.3 C483.9,707.2 484.9,708.0 485.9,708.8 C486.9,709.5 487.9,710.3 488.9,711.0 C489.9,711.7 490.9,712.4 491.9,713.0 C492.9,713.7 493.9,714.4 494.9,715.0 C495.9,715.7 496.9,716.3 497.9,716.9 C498.9,717.5 499.9,718.1 500.9,718.7 C501.9,719.3 502.9,719.9 503.9,720.5 C504.9,721.1 505.9,721.7 506.9,722.3 C507.9,722.9 508.9,723.4 509.9,724.0 C510.9,724.6 511.9,725.1 512.9,725.6 C513.9,726.1 514.9,726.6 515.9,727.1 C516.9,727.6 517.9,728.1 518.9,728.5 C519.9,729.0 520.9,729.4 521.9,729.8 C522.9,730.3 523.9,730.7 524.9,731.1 C525.9,731.5 526.9,731.9 527.9,732.3 C528.9,732.6 529.9,733.0 530.9,733.4 C531.9,733.7 532.9,734.1 533.9,734.5 C534.9,734.8 535.9,735.1 536.9,735.5 C537.9,735.8 538.9,736.1 539.9,736.4 C540.9,736.7 541.9,737.0 542.9,737.3 C543.9,737.6 544.9,737.8 545.9,738.1 C546.9,738.3 547.9,738.6 548.9,738.8 C549.9,739.0 550.9,739.3 551.9,739.5 C552.9,739.7 553.9,739.9 554.9,740.1 C555.9,740.3 556.9,740.4 557.9,740.6 C558.9,740.8 559.9,740.9 560.9,741.0 C561.9,741.2 562.9,741.3 563.9,741.4 C564.9,741.5 565.9,741.6 566.9,741.7 C567.9,741.9 568.9,742.0 569.9,742.1 C570.9,742.2 571.9,742.2 572.9,742.3 C573.9,742.4 574.9,742.5 575.9,742.6 C576.9,742.7 577.9,742.7 578.9,742.8 C579.9,742.8 580.9,742.9 581.9,743.0 C582.9,743.0 583.9,743.1 584.9,743.1 C585.9,743.2 586.9,743.3 587.9,743.3 C588.9,743.3 589.9,743.4 590.9,743.4 C591.9,743.5 592.9,743.5 593.9,743.5 C594.9,743.6 595.9,743.6 596.9,743.6 C597.9,743.7 598.9,743.7 599.9,743.7 C600.9,743.7 601.9,743.7 602.9,743.8 C603.9,743.8 604.9,743.8 605.9,743.8 C606.9,743.8 607.9,743.8 608.9,743.9 C609.9,743.9 610.9,743.9 611.9,743.9 C612.9,743.9 613.9,743.9 614.9,743.9 C615.9,744.0 616.9,744.0 617.9,744.0 C618.9,744.0 619.9,744.0 620.9,744.0 C621.9,744.1 622.9,744.1 623.9,744.1 C624.9,744.1 625.9,744.1 626.9,744.1 C627.9,744.1 629.2,744.2 629.9,744.2 C630.6,744.2 631.1,744.2 631.3,744.2" stroke="#ED7D31"/>
<path d="M77.9,739.1 C78.4,739.1 79.9,739.2 80.9,739.3 C81.9,739.4 82.9,739.5 83.9,739.5 C84.9,739.6 85.9,739.7 86.9,739.8 C87.9,739.8 88.9,739.9 89.9,740.0 C90.9,740.0 91.9,740.1 92.9,740.2 C93.9,740.3 94.9,740.3 95.9,740.4 C96.9,740.5 97.9,740.6 98.9,740.6 C99.9,740.7 100.9,740.8 101.9,740.8 C102.9,740.9 103.9,741.0 104.9,741.0 C105.9,741.1 106.9,741.1 107.9,741.2 C108.9,741.2 109.9,741.3 110.9,741.4 C111.9,741.4 112.9,741.5 113.9,741.5 C114.9,741.6 115.9,741.6 116.9,741.7 C117.9,741.7 118.9,741.8 119.9,741.8 C120.9,741.9 121.9,741.9 122.9,742.0 C123.9,742.0 124.9,742.1 125.9,742.1 C126.9,742.2 127.9,742.2 128.9,742.3 C129.9,742.3 130.9,742.3 131.9,742.3 C132.9,742.4 133.9,742.4 134.9,742.3 C135.9,742.3 136.9,742.3 137.9,742.3 C138.9,742.2 139.9,742.2 140.9,742.1 C141.9,742.1 142.9,742.0 143.9,742.0 C144.9,741.9 145.9,741.9 146.9,741.8 C147.9,741.8 148.9,741.7 149.9,741.7 C150.9,741.6 151.9,741.6 152.9,741.5 C153.9,741.4 154.9,741.4 155.9,741.3 C156.9,741.3 157.9,741.2 158.9,741.2 C159.9,741.1 160.9,741.0 161.9,740.9 C162.9,740.9 163.9,740.8 164.9,740.6 C165.9,740.5 166.9,740.4 167.9,740.3 C168.9,740.2 169.9,740.0 170.9,739.9 C171.9,739.8 172.9,739.7 173.9,739.6 C174.9,739.4 175.9,739.3 176.9,739.2 C177.9,739.1 178.9,739.0 179.9,738.8 C180.9,738.7 181.9,738.6 182.9,738.5 C183.9,738.4 184.9,738.3 185.9,738.1 C186.9,738.0 187.9,737.9 188.9,737.8 C189.9,737.7 190.9,737.6 191.9,737.4 C192.9,737.3 193.9,737.2 194.9,737.1 C195.9,737.0 196.9,736.8 197.9,736.7 C198.9,736.6 199.9,736.4 200.9,736.3 C201.9,736.1 202.9,735.9 203.9,735.8 C204.9,735.6 205.9,735.4 206.9,735.3 C207.9,735.1 208.9,734.9 209.9,734.7 C210.9,734.6 211.9,734.4 212.9,734.2 C213.9,734.0 214.9,733.9 215.9,733.7 C216.9,733.5 217.9,733.3 218.9,733.2 C219.9,733.0 220.9,732.8 221.9,732.6 C222.9,732.5 223.9,732.3 224.9,732.1 C225.9,731.9 226.9,731.7 227.9,731.5 C228.9,731.3 229.9,731.1 230.9,730.8 C231.9,730.6 232.9,730.4 233.9,730.1 C234.9,729.9 235.9,729.6 236.9,729.4 C237.9,729.1 238.9,728.9 239.9,728.6 C240.9,728.4 241.9,728.1 242.9,727.9 C243.9,727.6 244.9,727.4 245.9,727.1 C246.9,726.9 247.9,726.6 248.9,726.4 C249.9,726.1 250.9,725.9 251.9,725.6 C252.9,725.4 253.9,725.1 254.9,724.9 C255.9,724.7 256.9,724.4 257.9,724.2 C258.9,724.0 259.9,723.8 260.9,723.6 C261.9,723.4 262.9,723.3 263.9,723.1 C264.9,722.9 265.9,722.7 266.9,722.5 C267.9,722.4 268.9,722.2 269.9,722.0 C270.9,721.8 271.9,721.6 272.9,721.4 C273.9,721.2 274.9,721.0 275.9,720.8 C276.9,720.7 277.9,720.5 278.9,720.3 C279.9,720.1 280.9,719.9 281.9,719.8 C282.9,719.6 283.9,719.4 284.9,719.3 C285.9,719.1 286.9,718.9 287.9,718.8 C288.9,718.6 289.9,718.4 290.9,718.3 C291.9,718.1 292.9,717.9 293.9,717.8 C294.9,717.6 295.9,717.4 296.9,717.2 C297.9,717.1 298.9,716.9 299.9,716.7 C300.9,716.5 301.9,716.3 302.9,716.2 C303.9,716.0 304.9,715.8 305.9,715.6 C306.9,715.4 307.9,715.2 308.9,715.1 C309.9,714.9 310.9,714.7 311.9,714.5 C312.9,714.4 313.9,714.2 314.9,714.1 C315.9,713.9 316.9,713.8 317.9,713.6 C318.9,713.4 319.9,713.3 320.9,713.2 C321.9,713.0 322.9,712.9 323.9,712.7 C324.9,712.6 325.9,712.4 326.9,712.3 C327.9,712.1 328.9,712.0 329.9,711.9 C330.9,711.7 331.9,711.6 332.9,711.5 C333.9,711.3 334.9,711.2 335.9,711.1 C336.9,711.0 337.9,710.9 338.9,710.7 C339.9,710.6 340.9,710.5 341.9,710.4 C342.9,710.3 343.9,710.1 344.9,710.0 C345.9,709.9 346.9,709.8 347.9,709.7 C348.9,709.6 349.9,709.5 350.9,709.4 C351.9,709.4 352.9,709.3 353.9,709.2 C354.9,709.1 355.9,709.0 356.9,709.0 C357.9,708.9 358.9,708.8 359.9,708.7 C360.9,708.7 361.9,708.6 362.9,708.5 C363.9,708.5 364.9,708.4 365.9,708.4 C366.9,708.3 367.9,708.3 368.9,708.3 C369.9,708.3 370.9,708.3 371.9,708.3 C372.9,708.3 373.9,708.3 374.9,708.3 C375.9,708.3 376.9,708.3 377.9,708.3 C378.9,708.3 379.9,708.3 380.9,708.3 C381.9,708.3 382.9,708.4 383.9,708.4 C384.9,708.4 385.9,708.4 386.9,708.4 C387.9,708.4 388.9,708.5 389.9,708.5 C390.9,708.6 391.9,708.6 392.9,708.7 C393.9,708.8 394.9,709.0 395.9,709.1 C396.9,709.2 397.9,709.4 398.9,709.6 C399.9,709.7 400.9,709.9 401.9,710.1 C402.9,710.2 403.9,710.4 404.9,710.6 C405.9,710.7 406.9,710.9 407.9,711.1 C408.9,711.3 409.9,711.5 410.9,711.7 C411.9,711.9 412.9,712.2 413.9,712.4 C414.9,712.6 415.9,712.9 416.9,713.1 C417.9,713.4 418.9,713.6 419.9,713.9 C420.9,714.1 421.9,714.4 422.9,714.7 C423.9,714.9 424.9,715.2 425.9,715.4 C426.9,715.7 427.9,716.0 428.9,716.3 C429.9,716.5 430.9,716.8 431.9,717.1 C432.9,717.4 433.9,717.7 434.9,718.0 C435.9,718.3 436.9,718.6 437.9,718.9 C438.9,719.2 439.9,719.5 440.9,719.8 C441.9,720.1 442.9,720.4 443.9,720.7 C444.9,721.0 445.9,721.3 446.9,721.6 C447.9,721.9 448.9,722.2 449.9,722.5 C450.9,722.8 451.9,723.1 452.9,723.4 C453.9,723.7 454.9,724.0 455.9,724.3 C456.9,724.6 457.9,724.9 458.9,725.2 C459.9,725.5 460.9,725.8 461.9,726.1 C462.9,726.3 463.9,726.6 464.9,726.9 C465.9,727.2 466.9,727.4 467.9,727.7 C468.9,728.0 469.9,728.3 470.9,728.5 C471.9,728.8 472.9,729.1 473.9,729.3 C474.9,729.6 475.9,729.9 476.9,730.1 C477.9,730.4 478.9,730.6 479.9,730.9 C480.9,731.1 481.9,731.4 482.9,731.6 C483.9,731.8 484.9,732.0 485.9,732.2 C486.9,732.5 487.9,732.7 488.9,732.9 C489.9,733.1 490.9,733.3 491.9,733.6 C492.9,733.8 493.9,734.0 494.9,734.2 C495.9,734.5 496.9,734.7 497.9,734.9 C498.9,735.2 499.9,735.4 500.9,735.6 C501.9,735.9 502.9,736.1 503.9,736.3 C504.9,736.5 505.9,736.8 506.9,737.0 C507.9,737.2 508.9,737.4 509.9,737.6 C510.9,737.8 511.9,738.0 512.9,738.1 C513.9,738.3 514.9,738.5 515.9,738.7 C516.9,738.8 517.9,739.0 518.9,739.2 C519.9,739.3 520.9,739.5 521.9,739.6 C522.9,739.8 523.9,739.9 524.9,740.1 C525.9,740.2 526.9,740.4 527.9,740.5 C528.9,740.6 529.9,740.8 530.9,740.9 C531.9,741.0 532.9,741.2 533.9,741.3 C534.9,741.4 535.9,741.5 536.9,741.6 C537.9,741.7 538.9,741.8 539.9,741.9 C540.9,742.0 541.9,742.1 542.9,742.1 C543.9,742.2 544.9,742.3 545.9,742.4 C546.9,742.5 547.9,742.5 548.9,742.6 C549.9,742.7 550.9,742.8 551.9,742.9 C552.9,743.0 553.9,743.1 554.9,743.1 C555.9,743.2 556.9,743.3 557.9,743.4 C558.9,743.5 559.9,743.6 560.9,743.7 C561.9,743.8 562.9,744.0 563.9,744.1 C564.9,744.2 565.9,744.3 566.9,744.4 C567.9,744.5 568.9,744.7 569.9,744.8 C570.9,744.9 571.9,745.0 572.9,745.1 C573.9,745.2 574.9,745.3 575.9,745.4 C576.9,745.5 577.9,745.6 578.9,745.7 C579.9,745.8 580.9,745.9 581.9,746.0 C582.9,746.1 583.9,746.1 584.9,746.2 C585.9,746.3 586.9,746.4 587.9,746.4 C588.9,746.5 589.9,746.5 590.9,746.6 C591.9,746.6 592.9,746.7 593.9,746.7 C594.9,746.8 595.9,746.8 596.9,746.8 C597.9,746.9 598.9,746.9 599.9,746.9 C600.9,747.0 601.9,747.0 602.9,747.0 C603.9,747.0 604.9,747.0 605.9,747.1 C606.9,747.1 607.9,747.1 608.9,747.1 C609.9,747.1 610.9,747.1 611.9,747.1 C612.9,747.1 613.9,747.1 614.9,747.1 C615.9,747.2 616.9,747.2 617.9,747.2 C618.9,747.2 619.9,747.2 620.9,747.2 C621.9,747.2 622.9,747.2 623.9,747.2 C624.9,747.2 625.9,747.3 626.9,747.3 C627.9,747.3 629.2,747.3 629.9,747.3 C630.6,747.3 630.8,747.3 631.0,747.3" stroke="#A5A5A5"/>
<path d="M77.9,744.2 C78.4,744.2 79.9,744.2 80.9,744.2 C81.9,744.2 82.9,744.2 83.9,744.3 C84.9,744.3 85.9,744.3 86.9,744.3 C87.9,744.3 88.9,744.3 89.9,744.3 C90.9,744.3 91.9,744.3 92.9,744.3 C93.9,744.3 94.9,744.3 95.9,744.4 C96.9,744.4 97.9,744.4 98.9,744.4 C99.9,744.4 100.9,744.4 101.9,744.4 C102.9,744.4 103.9,744.4 104.9,744.4 C105.9,744.4 106.9,744.4 107.9,744.5 C108.9,744.5 109.9,744.5 110.9,744.5 C111.9,744.5 112.9,744.5 113.9,744.5 C114.9,744.5 115.9,744.5 116.9,744.5 C117.9,744.5 118.9,744.5 119.9,744.6 C120.9,744.6 121.9,744.6 122.9,744.6 C123.9,744.6 124.9,744.6 125.9,744.6 C126.9,744.6 127.9,744.6 128.9,744.6 C129.9,744.5 130.9,744.5 131.9,744.5 C132.9,744.5 133.9,744.5 134.9,744.5 C135.9,744.5 136.9,744.5 137.9,744.5 C138.9,744.5 139.9,744.5 140.9,744.4 C141.9,744.4 142.9,744.4 143.9,744.4 C144.9,744.4 145.9,744.4 146.9,744.4 C147.9,744.4 148.9,744.4 149.9,744.4 C150.9,744.3 151.9,744.3 152.9,744.3 C153.9,744.3 154.9,744.3 155.9,744.3 C156.9,744.3 157.9,744.3 158.9,744.3 C159.9,744.2 160.9,744.2 161.9,744.2 C162.9,744.2 163.9,744.2 164.9,744.2 C165.9,744.1 166.9,744.1 167.9,744.1 C168.9,744.0 169.9,744.0 170.9,744.0 C171.9,743.9 172.9,743.9 173.9,743.8 C174.9,743.8 175.9,743.8 176.9,743.7 C177.9,743.7 178.9,743.6 179.9,743.6 C180.9,743.5 181.9,743.5 182.9,743.4 C183.9,743.4 184.9,743.3 185.9,743.3 C186.9,743.2 187.9,743.2 188.9,743.1 C189.9,743.1 190.9,743.0 191.9,743.0 C192.9,742.9 193.9,742.9 194.9,742.8 C195.9,742.8 196.9,742.7 197.9,742.6 C198.9,742.6 199.9,742.5 200.9,742.4 C201.9,742.4 202.9,742.3 203.9,742.2 C204.9,742.1 205.9,742.1 206.9,742.0 C207.9,741.9 208.9,741.8 209.9,741.8 C210.9,741.7 211.9,741.6 212.9,741.5 C213.9,741.4 214.9,741.4 215.9,741.3 C216.9,741.2 217.9,741.1 218.9,741.0 C219.9,741.0 220.9,740.9 221.9,740.8 C222.9,740.7 223.9,740.7 224.9,740.6 C225.9,740.5 226.9,740.4 227.9,740.3 C228.9,740.3 229.9,740.2 230.9,740.1 C231.9,740.0 232.9,740.0 233.9,739.9 C234.9,739.8 235.9,739.7 236.9,739.7 C237.9,739.6 238.9,739.5 239.9,739.4 C240.9,739.4 241.9,739.3 242.9,739.2 C243.9,739.1 244.9,739.1 245.9,739.0 C246.9,738.9 247.9,738.8 248.9,738.8 C249.9,738.7 250.9,738.6 251.9,738.5 C252.9,738.5 253.9,738.4 254.9,738.3 C255.9,738.2 256.9,738.1 257.9,738.1 C258.9,738.0 259.9,737.9 260.9,737.8 C261.9,737.8 262.9,737.7 263.9,737.6 C264.9,737.5 265.9,737.4 266.9,737.4 C267.9,737.3 268.9,737.2 269.9,737.1 C270.9,737.1 271.9,737.0 272.9,736.9 C273.9,736.9 274.9,736.8 275.9,736.7 C276.9,736.7 277.9,736.6 278.9,736.6 C279.9,736.5 280.9,736.4 281.9,736.4 C282.9,736.3 283.9,736.3 284.9,736.2 C285.9,736.1 286.9,736.1 287.9,736.0 C288.9,736.0 289.9,735.9 290.9,735.8 C291.9,735.8 292.9,735.7 293.9,735.7 C294.9,735.6 295.9,735.6 296.9,735.5 C297.9,735.4 298.9,735.4 299.9,735.3 C300.9,735.3 301.9,735.2 302.9,735.2 C303.9,735.1 304.9,735.1 305.9,735.0 C306.9,735.0 307.9,734.9 308.9,734.8 C309.9,734.8 310.9,734.7 311.9,734.7 C312.9,734.6 313.9,734.6 314.9,734.5 C315.9,734.5 316.9,734.4 317.9,734.4 C318.9,734.3 319.9,734.2 320.9,734.2 C321.9,734.1 322.9,734.1 323.9,734.0 C324.9,734.0 325.9,733.9 326.9,733.9 C327.9,733.8 328.9,733.8 329.9,733.7 C330.9,733.7 331.9,733.6 332.9,733.6 C333.9,733.5 334.9,733.5 335.9,733.4 C336.9,733.4 337.9,733.3 338.9,733.3 C339.9,733.2 340.9,733.2 341.9,733.2 C342.9,733.1 343.9,733.1 344.9,733.0 C345.9,733.0 346.9,732.9 347.9,732.9 C348.9,732.8 349.9,732.8 350.9,732.7 C351.9,732.7 352.9,732.7 353.9,732.6 C354.9,732.6 355.9,732.5 356.9,732.5 C357.9,732.4 358.9,732.4 359.9,732.3 C360.9,732.3 361.9,732.3 362.9,732.2 C363.9,732.2 364.9,732.2 365.9,732.1 C366.9,732.1 367.9,732.1 368.9,732.1 C369.9,732.0 370.9,732.0 371.9,732.0 C372.9,732.0 373.9,732.0 374.9,732.0 C375.9,732.0 376.9,731.9 377.9,731.9 C378.9,731.9 379.9,731.9 380.9,731.9 C381.9,731.9 382.9,731.9 383.9,731.9 C384.9,731.9 385.9,731.9 386.9,731.9 C387.9,731.9 388.9,731.9 389.9,731.9 C390.9,732.0 391.9,732.0 392.9,732.0 C393.9,732.0 394.9,732.1 395.9,732.1 C396.9,732.2 397.9,732.2 398.9,732.3 C399.9,732.4 400.9,732.4 401.9,732.5 C402.9,732.6 403.9,732.6 404.9,732.7 C405.9,732.8 406.9,732.8 407.9,732.9 C408.9,733.0 409.9,733.0 410.9,733.1 C411.9,733.2 412.9,733.3 413.9,733.4 C414.9,733.5 415.9,733.6 416.9,733.7 C417.9,733.8 418.9,733.9 419.9,734.0 C420.9,734.1 421.9,734.2 422.9,734.3 C423.9,734.4 424.9,734.5 425.9,734.5 C426.9,734.6 427.9,734.7 428.9,734.8 C429.9,734.9 430.9,735.0 431.9,735.2 C432.9,735.3 433.9,735.4 434.9,735.5 C435.9,735.6 436.9,735.7 437.9,735.8 C438.9,735.9 439.9,736.0 440.9,736.1 C441.9,736.2 442.9,736.3 443.9,736.4 C444.9,736.5 445.9,736.6 446.9,736.7 C447.9,736.8 448.9,737.0 449.9,737.1 C450.9,737.2 451.9,737.3 452.9,737.4 C453.9,737.6 454.9,737.7 455.9,737.8 C456.9,737.9 457.9,738.0 458.9,738.2 C459.9,738.3 460.9,738.4 461.9,738.5 C462.9,738.6 463.9,738.8 464.9,738.9 C465.9,739.0 466.9,739.1 467.9,739.2 C468.9,739.4 469.9,739.5 470.9,739.6 C471.9,739.7 472.9,739.8 473.9,740.0 C474.9,740.1 475.9,740.2 476.9,740.3 C477.9,740.4 478.9,740.5 479.9,740.6 C480.9,740.8 481.9,740.9 482.9,741.0 C483.9,741.1 484.9,741.2 485.9,741.2 C486.9,741.3 487.9,741.4 488.9,741.5 C489.9,741.6 490.9,741.7 491.9,741.8 C492.9,741.9 493.9,742.0 494.9,742.0 C495.9,742.1 496.9,742.2 497.9,742.3 C498.9,742.3 499.9,742.4 500.9,742.5 C501.9,742.5 502.9,742.6 503.9,742.6 C504.9,742.7 505.9,742.8 506.9,742.8 C507.9,742.9 508.9,742.9 509.9,743.0 C510.9,743.0 511.9,743.1 512.9,743.1 C513.9,743.2 514.9,743.2 515.9,743.3 C516.9,743.3 517.9,743.4 518.9,743.4 C519.9,743.5 520.9,743.5 521.9,743.6 C522.9,743.6 523.9,743.7 524.9,743.7 C525.9,743.8 526.9,743.8 527.9,743.9 C528.9,743.9 529.9,744.0 530.9,744.0 C531.9,744.1 532.9,744.1 533.9,744.2 C534.9,744.2 535.9,744.3 536.9,744.3 C537.9,744.3 538.9,744.4 539.9,744.4 C540.9,744.4 541.9,744.5 542.9,744.5 C543.9,744.5 544.9,744.6 545.9,744.6 C546.9,744.6 547.9,744.7 548.9,744.7 C549.9,744.7 550.9,744.8 551.9,744.8 C552.9,744.9 553.9,744.9 554.9,745.0 C555.9,745.1 556.9,745.1 557.9,745.2 C558.9,745.2 559.9,745.3 560.9,745.4 C561.9,745.4 562.9,745.5 563.9,745.5 C564.9,745.6 565.9,745.7 566.9,745.7 C567.9,745.8 568.9,745.8 569.9,745.9 C570.9,746.0 571.9,746.0 572.9,746.1 C573.9,746.1 574.9,746.2 575.9,746.2 C576.9,746.3 577.9,746.3 578.9,746.4 C579.9,746.4 580.9,746.5 581.9,746.5 C582.9,746.5 583.9,746.5 584.9,746.6 C585.9,746.6 586.9,746.6 587.9,746.6 C588.9,746.6 589.9,746.7 590.9,746.7 C591.9,746.7 592.9,746.7 593.9,746.7 C594.9,746.7 595.9,746.7 596.9,746.8 C597.9,746.8 598.9,746.8 599.9,746.8 C600.9,746.8 601.9,746.8 602.9,746.9 C603.9,746.9 604.9,746.9 605.9,746.9 C606.9,746.9 607.9,746.9 608.9,747.0 C609.9,747.0 610.9,747.0 611.9,747.0 C612.9,747.0 613.9,747.0 614.9,747.0 C615.9,747.1 616.9,747.1 617.9,747.1 C618.9,747.1 619.9,747.1 620.9,747.1 C621.9,747.2 622.9,747.2 623.9,747.2 C624.9,747.2 625.9,747.2 626.9,747.2 C627.9,747.2 629.2,747.3 629.9,747.3 C630.6,747.3 630.8,747.3 631.0,747.3" stroke="#FFC000"/>
<path d="M77.9,746.4 C78.4,746.4 79.9,746.4 80.9,746.4 C81.9,746.4 82.9,746.4 83.9,746.4 C84.9,746.4 85.9,746.4 86.9,746.4 C87.9,746.4 88.9,746.4 89.9,746.5 C90.9,746.5 91.9,746.5 92.9,746.5 C93.9,746.5 94.9,746.5 95.9,746.5 C96.9,746.5 97.9,746.5 98.9,746.5 C99.9,746.5 100.9,746.5 101.9,746.5 C102.9,746.5 103.9,746.5 104.9,746.5 C105.9,746.5 106.9,746.5 107.9,746.5 C108.9,746.5 109.9,746.5 110.9,746.5 C111.9,746.5 112.9,746.5 113.9,746.6 C114.9,746.6 115.9,746.6 116.9,746.6 C117.9,746.6 118.9,746.6 119.9,746.6 C120.9,746.6 121.9,746.6 122.9,746.6 C123.9,746.6 124.9,746.6 125.9,746.6 C126.9,746.5 127.9,746.5 128.9,746.5 C129.9,746.5 130.9,746.5 131.9,746.5 C132.9,746.5 133.9,746.4 134.9,746.4 C135.9,746.4 136.9,746.4 137.9,746.4 C138.9,746.4 139.9,746.3 140.9,746.3 C141.9,746.3 142.9,746.3 143.9,746.3 C144.9,746.2 145.9,746.2 146.9,746.2 C147.9,746.2 148.9,746.2 149.9,746.2 C150.9,746.1 151.9,746.1 152.9,746.1 C153.9,746.1 154.9,746.1 155.9,746.1 C156.9,746.0 157.9,746.0 158.9,746.0 C159.9,746.0 160.9,746.0 161.9,745.9 C162.9,745.9 163.9,745.9 164.9,745.9 C165.9,745.9 166.9,745.8 167.9,745.8 C168.9,745.8 169.9,745.8 170.9,745.7 C171.9,745.7 172.9,745.7 173.9,745.7 C174.9,745.6 175.9,745.6 176.9,745.6 C177.9,745.5 178.9,745.5 179.9,745.5 C180.9,745.4 181.9,745.4 182.9,745.3 C183.9,745.3 184.9,745.3 185.9,745.2 C186.9,745.2 187.9,745.2 188.9,745.1 C189.9,745.1 190.9,745.1 191.9,745.0 C192.9,745.0 193.9,745.0 194.9,744.9 C195.9,744.9 196.9,744.9 197.9,744.8 C198.9,744.8 199.9,744.8 200.9,744.7 C201.9,744.7 202.9,744.6 203.9,744.6 C204.9,744.6 205.9,744.5 206.9,744.5 C207.9,744.5 208.9,744.5 209.9,744.4 C210.9,744.4 211.9,744.4 212.9,744.4 C213.9,744.3 214.9,744.3 215.9,744.3 C216.9,744.3 217.9,744.3 218.9,744.2 C219.9,744.2 220.9,744.2 221.9,744.2 C222.9,744.2 223.9,744.1 224.9,744.1 C225.9,744.1 226.9,744.1 227.9,744.1 C228.9,744.1 229.9,744.0 230.9,744.0 C231.9,744.0 232.9,744.0 233.9,744.0 C234.9,744.0 235.9,743.9 236.9,743.9 C237.9,743.9 238.9,743.9 239.9,743.9 C240.9,743.8 241.9,743.8 242.9,743.8 C243.9,743.8 244.9,743.8 245.9,743.8 C246.9,743.7 247.9,743.7 248.9,743.7 C249.9,743.7 250.9,743.7 251.9,743.6 C252.9,743.6 253.9,743.6 254.9,743.6 C255.9,743.6 256.9,743.6 257.9,743.5 C258.9,743.5 259.9,743.5 260.9,743.5 C261.9,743.4 262.9,743.4 263.9,743.4 C264.9,743.4 265.9,743.3 266.9,743.3 C267.9,743.3 268.9,743.3 269.9,743.2 C270.9,743.2 271.9,743.2 272.9,743.2 C273.9,743.1 274.9,743.1 275.9,743.1 C276.9,743.1 277.9,743.0 278.9,743.0 C279.9,743.0 280.9,743.0 281.9,742.9 C282.9,742.9 283.9,742.9 284.9,742.9 C285.9,742.8 286.9,742.8 287.9,742.8 C288.9,742.8 289.9,742.7 290.9,742.7 C291.9,742.7 292.9,742.7 293.9,742.6 C294.9,742.6 295.9,742.6 296.9,742.6 C297.9,742.5 298.9,742.5 299.9,742.5 C300.9,742.4 301.9,742.4 302.9,742.4 C303.9,742.4 304.9,742.3 305.9,742.3 C306.9,742.3 307.9,742.3 308.9,742.2 C309.9,742.2 310.9,742.2 311.9,742.2 C312.9,742.1 313.9,742.1 314.9,742.1 C315.9,742.1 316.9,742.0 317.9,742.0 C318.9,742.0 319.9,742.0 320.9,741.9 C321.9,741.9 322.9,741.9 323.9,741.9 C324.9,741.8 325.9,741.8 326.9,741.8 C327.9,741.8 328.9,741.7 329.9,741.7 C330.9,741.7 331.9,741.7 332.9,741.7 C333.9,741.6 334.9,741.6 335.9,741.6 C336.9,741.6 337.9,741.6 338.9,741.6 C339.9,741.6 340.9,741.5 341.9,741.5 C342.9,741.5 343.9,741.5 344.9,741.5 C345.9,741.5 346.9,741.5 347.9,741.4 C348.9,741.4 349.9,741.4 350.9,741.4 C351.9,741.4 352.9,741.4 353.9,741.4 C354.9,741.4 355.9,741.3 356.9,741.3 C357.9,741.3 358.9,741.3 359.9,741.3 C360.9,741.3 361.9,741.3 362.9,741.2 C363.9,741.2 364.9,741.2 365.9,741.2 C366.9,741.2 367.9,741.2 368.9,741.2 C369.9,741.1 370.9,741.1 371.9,741.1 C372.9,741.1 373.9,741.1 374.9,741.1 C375.9,741.1 376.9,741.1 377.9,741.0 C378.9,741.0 379.9,741.0 380.9,741.0 C381.9,741.0 382.9,741.1 383.9,741.1 C384.9,741.1 385.9,741.1 386.9,741.1 C387.9,741.1 388.9,741.1 389.9,741.1 C390.9,741.1 391.9,741.2 392.9,741.2 C393.9,741.2 394.9,741.2 395.9,741.2 C396.9,741.2 397.9,741.2 398.9,741.3 C399.9,741.3 400.9,741.3 401.9,741.3 C402.9,741.3 403.9,741.3 404.9,741.3 C405.9,741.3 406.9,741.4 407.9,741.4 C408.9,741.4 409.9,741.4 410.9,741.4 C411.9,741.5 412.9,741.5 413.9,741.5 C414.9,741.5 415.9,741.6 416.9,741.6 C417.9,741.6 418.9,741.7 419.9,741.7 C420.9,741.7 421.9,741.7 422.9,741.8 C423.9,741.8 424.9,741.8 425.9,741.9 C426.9,741.9 427.9,741.9 428.9,741.9 C429.9,742.0 430.9,742.0 431.9,742.0 C432.9,742.1 433.9,742.1 434.9,742.1 C435.9,742.1 436.9,742.2 437.9,742.2 C438.9,742.2 439.9,742.3 440.9,742.3 C441.9,742.3 442.9,742.3 443.9,742.4 C444.9,742.4 445.9,742.4 446.9,742.5 C447.9,742.5 448.9,742.5 449.9,742.6 C450.9,742.6 451.9,742.6 452.9,742.7 C453.9,742.7 454.9,742.8 455.9,742.8 C456.9,742.8 457.9,742.9 458.9,742.9 C459.9,742.9 460.9,743.0 461.9,743.0 C462.9,743.0 463.9,743.1 464.9,743.1 C465.9,743.2 466.9,743.2 467.9,743.2 C468.9,743.3 469.9,743.3 470.9,743.3 C471.9,743.4 472.9,743.4 473.9,743.4 C474.9,743.5 475.9,743.5 476.9,743.5 C477.9,743.6 478.9,743.6 479.9,743.7 C480.9,743.7 481.9,743.7 482.9,743.8 C483.9,743.8 484.9,743.8 485.9,743.9 C486.9,743.9 487.9,743.9 488.9,744.0 C489.9,744.0 490.9,744.1 491.9,744.1 C492.9,744.1 493.9,744.2 494.9,744.2 C495.9,744.2 496.9,744.3 497.9,744.3 C498.9,744.3 499.9,744.4 500.9,744.4 C501.9,744.4 502.9,744.4 503.9,744.5 C504.9,744.5 505.9,744.5 506.9,744.6 C507.9,744.6 508.9,744.6 509.9,744.7 C510.9,744.7 511.9,744.7 512.9,744.8 C513.9,744.8 514.9,744.8 515.9,744.9 C516.9,744.9 517.9,744.9 518.9,745.0 C519.9,745.0 520.9,745.0 521.9,745.0 C522.9,745.1 523.9,745.1 524.9,745.1 C525.9,745.2 526.9,745.2 527.9,745.2 C528.9,745.3 529.9,745.3 530.9,745.3 C531.9,745.4 532.9,745.4 533.9,745.4 C534.9,745.5 535.9,745.5 536.9,745.5 C537.9,745.6 538.9,745.6 539.9,745.6 C540.9,745.7 541.9,745.7 542.9,745.7 C543.9,745.8 544.9,745.8 545.9,745.8 C546.9,745.9 547.9,745.9 548.9,745.9 C549.9,746.0 550.9,746.0 551.9,746.0 C552.9,746.1 553.9,746.1 554.9,746.1 C555.9,746.2 556.9,746.2 557.9,746.2 C558.9,746.2 559.9,746.3 560.9,746.3 C561.9,746.3 562.9,746.3 563.9,746.3 C564.9,746.4 565.9,746.4 566.9,746.4 C567.9,746.4 568.9,746.4 569.9,746.4 C570.9,746.5 571.9,746.5 572.9,746.5 C573.9,746.5 574.9,746.5 575.9,746.5 C576.9,746.5 577.9,746.6 578.9,746.6 C579.9,746.6 580.9,746.6 581.9,746.6 C582.9,746.6 583.9,746.6 584.9,746.7 C585.9,746.7 586.9,746.7 587.9,746.7 C588.9,746.7 589.9,746.7 590.9,746.7 C591.9,746.7 592.9,746.8 593.9,746.8 C594.9,746.8 595.9,746.8 596.9,746.8 C597.9,746.8 598.9,746.8 599.9,746.9 C600.9,746.9 601.9,746.9 602.9,746.9 C603.9,746.9 604.9,746.9 605.9,746.9 C606.9,747.0 607.9,747.0 608.9,747.0 C609.9,747.0 610.9,747.0 611.9,747.0 C612.9,747.0 613.9,747.1 614.9,747.1 C615.9,747.1 616.9,747.1 617.9,747.1 C618.9,747.1 619.9,747.1 620.9,747.2 C621.9,747.2 622.9,747.2 623.9,747.2 C624.9,747.2 625.9,747.2 626.9,747.2 C627.9,747.3 629.2,747.3 629.9,747.3 C630.6,747.3 630.8,747.3 631.0,747.3" stroke="#4472C4"/>
<path d="M77.9,747.2 C78.4,747.2 79.9,747.2 80.9,747.2 C81.9,747.2 82.9,747.2 83.9,747.2 C84.9,747.2 85.9,747.2 86.9,747.2 C87.9,747.2 88.9,747.2 89.9,747.2 C90.9,747.2 91.9,747.2 92.9,747.2 C93.9,747.2 94.9,747.2 95.9,747.2 C96.9,747.2 97.9,747.2 98.9,747.2 C99.9,747.2 100.9,747.2 101.9,747.2 C102.9,747.2 103.9,747.2 104.9,747.2 C105.9,747.2 106.9,747.2 107.9,747.2 C108.9,747.2 109.9,747.2 110.9,747.2 C111.9,747.2 112.9,747.2 113.9,747.2 C114.9,747.2 115.9,747.2 116.9,747.2 C117.9,747.2 118.9,747.2 119.9,747.2 C120.9,747.2 121.9,747.2 122.9,747.2 C123.9,747.2 124.9,747.2 125.9,747.2 C126.9,747.2 127.9,747.2 128.9,747.2 C129.9,747.1 130.9,747.1 131.9,747.1 C132.9,747.1 133.9,747.1 134.9,747.1 C135.9,747.1 136.9,747.1 137.9,747.1 C138.9,747.0 139.9,747.0 140.9,747.0 C141.9,747.0 142.9,747.0 143.9,747.0 C144.9,747.0 145.9,747.0 146.9,747.0 C147.9,746.9 148.9,746.9 149.9,746.9 C150.9,746.9 151.9,746.9 152.9,746.9 C153.9,746.9 154.9,746.9 155.9,746.9 C156.9,746.8 157.9,746.8 158.9,746.8 C159.9,746.8 160.9,746.8 161.9,746.8 C162.9,746.8 163.9,746.8 164.9,746.8 C165.9,746.7 166.9,746.7 167.9,746.7 C168.9,746.7 169.9,746.7 170.9,746.7 C171.9,746.7 172.9,746.7 173.9,746.7 C174.9,746.7 175.9,746.6 176.9,746.6 C177.9,746.6 178.9,746.6 179.9,746.6 C180.9,746.6 181.9,746.6 182.9,746.6 C183.9,746.6 184.9,746.6 185.9,746.5 C186.9,746.5 187.9,746.5 188.9,746.5 C189.9,746.5 190.9,746.5 191.9,746.5 C192.9,746.5 193.9,746.5 194.9,746.5 C195.9,746.4 196.9,746.4 197.9,746.4 C198.9,746.4 199.9,746.4 200.9,746.4 C201.9,746.4 202.9,746.4 203.9,746.4 C204.9,746.4 205.9,746.3 206.9,746.3 C207.9,746.3 208.9,746.3 209.9,746.3 C210.9,746.3 211.9,746.3 212.9,746.3 C213.9,746.3 214.9,746.3 215.9,746.2 C216.9,746.2 217.9,746.2 218.9,746.2 C219.9,746.2 220.9,746.2 221.9,746.2 C222.9,746.2 223.9,746.2 224.9,746.2 C225.9,746.1 226.9,746.1 227.9,746.1 C228.9,746.1 229.9,746.1 230.9,746.1 C231.9,746.1 232.9,746.1 233.9,746.1 C234.9,746.1 235.9,746.0 236.9,746.0 C237.9,746.0 238.9,746.0 239.9,746.0 C240.9,746.0 241.9,746.0 242.9,746.0 C243.9,746.0 244.9,746.0 245.9,745.9 C246.9,745.9 247.9,745.9 248.9,745.9 C249.9,745.9 250.9,745.9 251.9,745.9 C252.9,745.9 253.9,745.9 254.9,745.9 C255.9,745.8 256.9,745.8 257.9,745.8 C258.9,745.8 259.9,745.8 260.9,745.8 C261.9,745.8 262.9,745.8 263.9,745.8 C264.9,745.8 265.9,745.7 266.9,745.7 C267.9,745.7 268.9,745.7 269.9,745.7 C270.9,745.7 271.9,745.7 272.9,745.7 C273.9,745.7 274.9,745.7 275.9,745.7 C276.9,745.7 277.9,745.7 278.9,745.7 C279.9,745.7 280.9,745.7 281.9,745.7 C282.9,745.7 283.9,745.7 284.9,745.7 C285.9,745.7 286.9,745.7 287.9,745.7 C288.9,745.7 289.9,745.7 290.9,745.7 C291.9,745.7 292.9,745.7 293.9,745.7 C294.9,745.7 295.9,745.7 296.9,745.7 C297.9,745.7 298.9,745.7 299.9,745.7 C300.9,745.7 301.9,745.7 302.9,745.7 C303.9,745.7 304.9,745.7 305.9,745.7 C306.9,745.7 307.9,745.7 308.9,745.7 C309.9,745.7 310.9,745.7 311.9,745.7 C312.9,745.7 313.9,745.7 314.9,745.7 C315.9,745.7 316.9,745.7 317.9,745.7 C318.9,745.7 319.9,745.7 320.9,745.7 C321.9,745.7 322.9,745.7 323.9,745.7 C324.9,745.7 325.9,745.6 326.9,745.6 C327.9,745.6 328.9,745.6 329.9,745.6 C330.9,745.6 331.9,745.6 332.9,745.6 C333.9,745.6 334.9,745.6 335.9,745.6 C336.9,745.6 337.9,745.6 338.9,745.6 C339.9,745.6 340.9,745.6 341.9,745.6 C342.9,745.6 343.9,745.6 344.9,745.6 C345.9,745.6 346.9,745.6 347.9,745.6 C348.9,745.6 349.9,745.6 350.9,745.6 C351.9,745.6 352.9,745.6 353.9,745.6 C354.9,745.6 355.9,745.6 356.9,745.6 C357.9,745.6 358.9,745.6 359.9,745.6 C360.9,745.6 361.9,745.6 362.9,745.6 C363.9,745.6 364.9,745.6 365.9,745.6 C366.9,745.6 367.9,745.6 368.9,745.6 C369.9,745.6 370.9,745.6 371.9,745.6 C372.9,745.6 373.9,745.6 374.9,745.6 C375.9,745.6 376.9,745.6 377.9,745.6 C378.9,745.6 379.9,745.6 380.9,745.6 C381.9,745.6 382.9,745.6 383.9,745.6 C384.9,745.6 385.9,745.6 386.9,745.6 C387.9,745.6 388.9,745.6 389.9,745.6 C390.9,745.6 391.9,745.6 392.9,745.6 C393.9,745.6 394.9,745.6 395.9,745.6 C396.9,745.6 397.9,745.6 398.9,745.6 C399.9,745.6 400.9,745.6 401.9,745.6 C402.9,745.6 403.9,745.6 404.9,745.6 C405.9,745.6 406.9,745.6 407.9,745.6 C408.9,745.6 409.9,745.6 410.9,745.6 C411.9,745.6 412.9,745.6 413.9,745.6 C414.9,745.6 415.9,745.6 416.9,745.6 C417.9,745.6 418.9,745.6 419.9,745.6 C420.9,745.6 421.9,745.6 422.9,745.6 C423.9,745.6 424.9,745.6 425.9,745.6 C426.9,745.6 427.9,745.6 428.9,745.6 C429.9,745.6 430.9,745.6 431.9,745.6 C432.9,745.6 433.9,745.6 434.9,745.6 C435.9,745.6 436.9,745.6 437.9,745.6 C438.9,745.6 439.9,745.6 440.9,745.6 C441.9,745.6 442.9,745.6 443.9,745.6 C444.9,745.6 445.9,745.6 446.9,745.6 C447.9,745.7 448.9,745.7 449.9,745.7 C450.9,745.7 451.9,745.7 452.9,745.7 C453.9,745.8 454.9,745.8 455.9,745.8 C456.9,745.8 457.9,745.8 458.9,745.9 C459.9,745.9 460.9,745.9 461.9,745.9 C462.9,745.9 463.9,745.9 464.9,746.0 C465.9,746.0 466.9,746.0 467.9,746.0 C468.9,746.0 469.9,746.0 470.9,746.1 C471.9,746.1 472.9,746.1 473.9,746.1 C474.9,746.1 475.9,746.2 476.9,746.2 C477.9,746.2 478.9,746.2 479.9,746.2 C480.9,746.2 481.9,746.3 482.9,746.3 C483.9,746.3 484.9,746.3 485.9,746.3 C486.9,746.4 487.9,746.4 488.9,746.4 C489.9,746.4 490.9,746.4 491.9,746.4 C492.9,746.5 493.9,746.5 494.9,746.5 C495.9,746.5 496.9,746.5 497.9,746.5 C498.9,746.5 499.9,746.6 500.9,746.6 C501.9,746.6 502.9,746.6 503.9,746.6 C504.9,746.6 505.9,746.6 506.9,746.6 C507.9,746.6 508.9,746.6 509.9,746.7 C510.9,746.7 511.9,746.7 512.9,746.7 C513.9,746.7 514.9,746.7 515.9,746.7 C516.9,746.7 517.9,746.7 518.9,746.8 C519.9,746.8 520.9,746.8 521.9,746.8 C522.9,746.8 523.9,746.8 524.9,746.8 C525.9,746.8 526.9,746.8 527.9,746.9 C528.9,746.9 529.9,746.9 530.9,746.9 C531.9,746.9 532.9,746.9 533.9,746.9 C534.9,746.9 535.9,746.9 536.9,747.0 C537.9,747.0 538.9,747.0 539.9,747.0 C540.9,747.0 541.9,747.0 542.9,747.0 C543.9,747.0 544.9,747.0 545.9,747.0 C546.9,747.1 547.9,747.1 548.9,747.1 C549.9,747.1 550.9,747.1 551.9,747.1 C552.9,747.1 553.9,747.1 554.9,747.1 C555.9,747.2 556.9,747.2 557.9,747.2 C558.9,747.2 559.9,747.2 560.9,747.2 C561.9,747.2 562.9,747.2 563.9,747.2 C564.9,747.2 565.9,747.2 566.9,747.2 C567.9,747.2 568.9,747.2 569.9,747.2 C570.9,747.2 571.9,747.2 572.9,747.2 C573.9,747.2 574.9,747.2 575.9,747.2 C576.9,747.2 577.9,747.2 578.9,747.2 C579.9,747.2 580.9,747.2 581.9,747.2 C582.9,747.2 583.9,747.2 584.9,747.2 C585.9,747.2 586.9,747.2 587.9,747.2 C588.9,747.2 589.9,747.2 590.9,747.2 C591.9,747.2 592.9,747.2 593.9,747.2 C594.9,747.2 595.9,747.2 596.9,747.2 C597.9,747.2 598.9,747.2 599.9,747.2 C600.9,747.2 601.9,747.2 602.9,747.2 C603.9,747.2 604.9,747.2 605.9,747.2 C606.9,747.2 607.9,747.2 608.9,747.2 C609.9,747.2 610.9,747.2 611.9,747.2 C612.9,747.2 613.9,747.2 614.9,747.2 C615.9,747.2 616.9,747.2 617.9,747.2 C618.9,747.2 619.9,747.2 620.9,747.2 C621.9,747.2 622.9,747.2 623.9,747.2 C624.9,747.2 625.9,747.2 626.9,747.2 C627.9,747.2 629.2,747.2 629.9,747.2 C630.6,747.2 630.8,747.2 631.0,747.2" stroke="#70AD47"/>
</g>
<text transform="translate(59.50,754.60) scale(1,1.06)" font-size="21" text-anchor="end">0</text>
<text transform="translate(59.50,723.39) scale(1,1.06)" font-size="21" text-anchor="end">0.1</text>
<text transform="translate(59.50,692.18) scale(1,1.06)" font-size="21" text-anchor="end">0.2</text>
<text transform="translate(59.50,660.97) scale(1,1.06)" font-size="21" text-anchor="end">0.3</text>
<text transform="translate(59.50,629.76) scale(1,1.06)" font-size="21" text-anchor="end">0.4</text>
<text transform="translate(59.50,598.55) scale(1,1.06)" font-size="21" text-anchor="end">0.5</text>
<text transform="translate(59.50,567.34) scale(1,1.06)" font-size="21" text-anchor="end">0.6</text>
<text transform="translate(59.50,536.13) scale(1,1.06)" font-size="21" text-anchor="end">0.7</text>
<text transform="translate(59.50,504.92) scale(1,1.06)" font-size="21" text-anchor="end">0.8</text>
<text transform="translate(59.50,473.71) scale(1,1.06)" font-size="21" text-anchor="end">0.9</text>
<text transform="translate(59.50,442.50) scale(1,1.06)" font-size="21" text-anchor="end">1</text>
<text transform="translate(77.50,779.50) scale(1,1.06)" font-size="21" text-anchor="middle">300</text>
<text transform="translate(169.67,779.50) scale(1,1.06)" font-size="21" text-anchor="middle">350</text>
<text transform="translate(261.83,779.50) scale(1,1.06)" font-size="21" text-anchor="middle">400</text>
<text transform="translate(354.00,779.50) scale(1,1.06)" font-size="21" text-anchor="middle">450</text>
<text transform="translate(446.17,779.50) scale(1,1.06)" font-size="21" text-anchor="middle">500</text>
<text transform="translate(538.33,779.50) scale(1,1.06)" font-size="21" text-anchor="middle">550</text>
<text transform="translate(630.50,779.50) scale(1,1.06)" font-size="21" text-anchor="middle">600</text>
<text transform="translate(354.00,807.30) scale(1,1.06)" font-size="21" text-anchor="middle">&#955; (nm)</text>
<text transform="translate(18.00,597.60) rotate(-90) scale(1,1.06)" font-size="21" text-anchor="middle">Absorbance (a.u.)</text>
<text transform="translate(684,814.00) scale(1,1.06)" font-size="24" text-anchor="end">(b)</text>
<line x1="540.30" y1="468.30" x2="577.80" y2="468.30" stroke="#5B9BD5" stroke-width="3" stroke-linecap="round"/>
<text transform="translate(581.30,475.20) scale(1,1.06)" font-size="21">0 S</text>
<line x1="540.30" y1="503.30" x2="577.80" y2="503.30" stroke="#ED7D31" stroke-width="3" stroke-linecap="round"/>
<text transform="translate(581.30,510.20) scale(1,1.06)" font-size="21">10 S</text>
<line x1="540.30" y1="538.30" x2="577.80" y2="538.30" stroke="#A5A5A5" stroke-width="3" stroke-linecap="round"/>
<text transform="translate(581.30,545.20) scale(1,1.06)" font-size="21">20 S</text>
<line x1="540.30" y1="573.30" x2="577.80" y2="573.30" stroke="#FFC000" stroke-width="3" stroke-linecap="round"/>
<text transform="translate(581.30,580.20) scale(1,1.06)" font-size="21">30 S</text>
<line x1="540.30" y1="608.30" x2="577.80" y2="608.30" stroke="#4472C4" stroke-width="3" stroke-linecap="round"/>
<text transform="translate(581.30,615.20) scale(1,1.06)" font-size="21">40 S</text>
<line x1="540.30" y1="643.30" x2="577.80" y2="643.30" stroke="#70AD47" stroke-width="3" stroke-linecap="round"/>
<text transform="translate(581.30,650.20) scale(1,1.06)" font-size="21">50 S</text>
<path d="M516.0,458.8 L527.2,458.8 L527.2,643.4 L533.2,643.4 L521.6,655.0 L510.2,643.4 L516.0,643.4 Z" fill="#FFC000"/>
</svg></body></html>
